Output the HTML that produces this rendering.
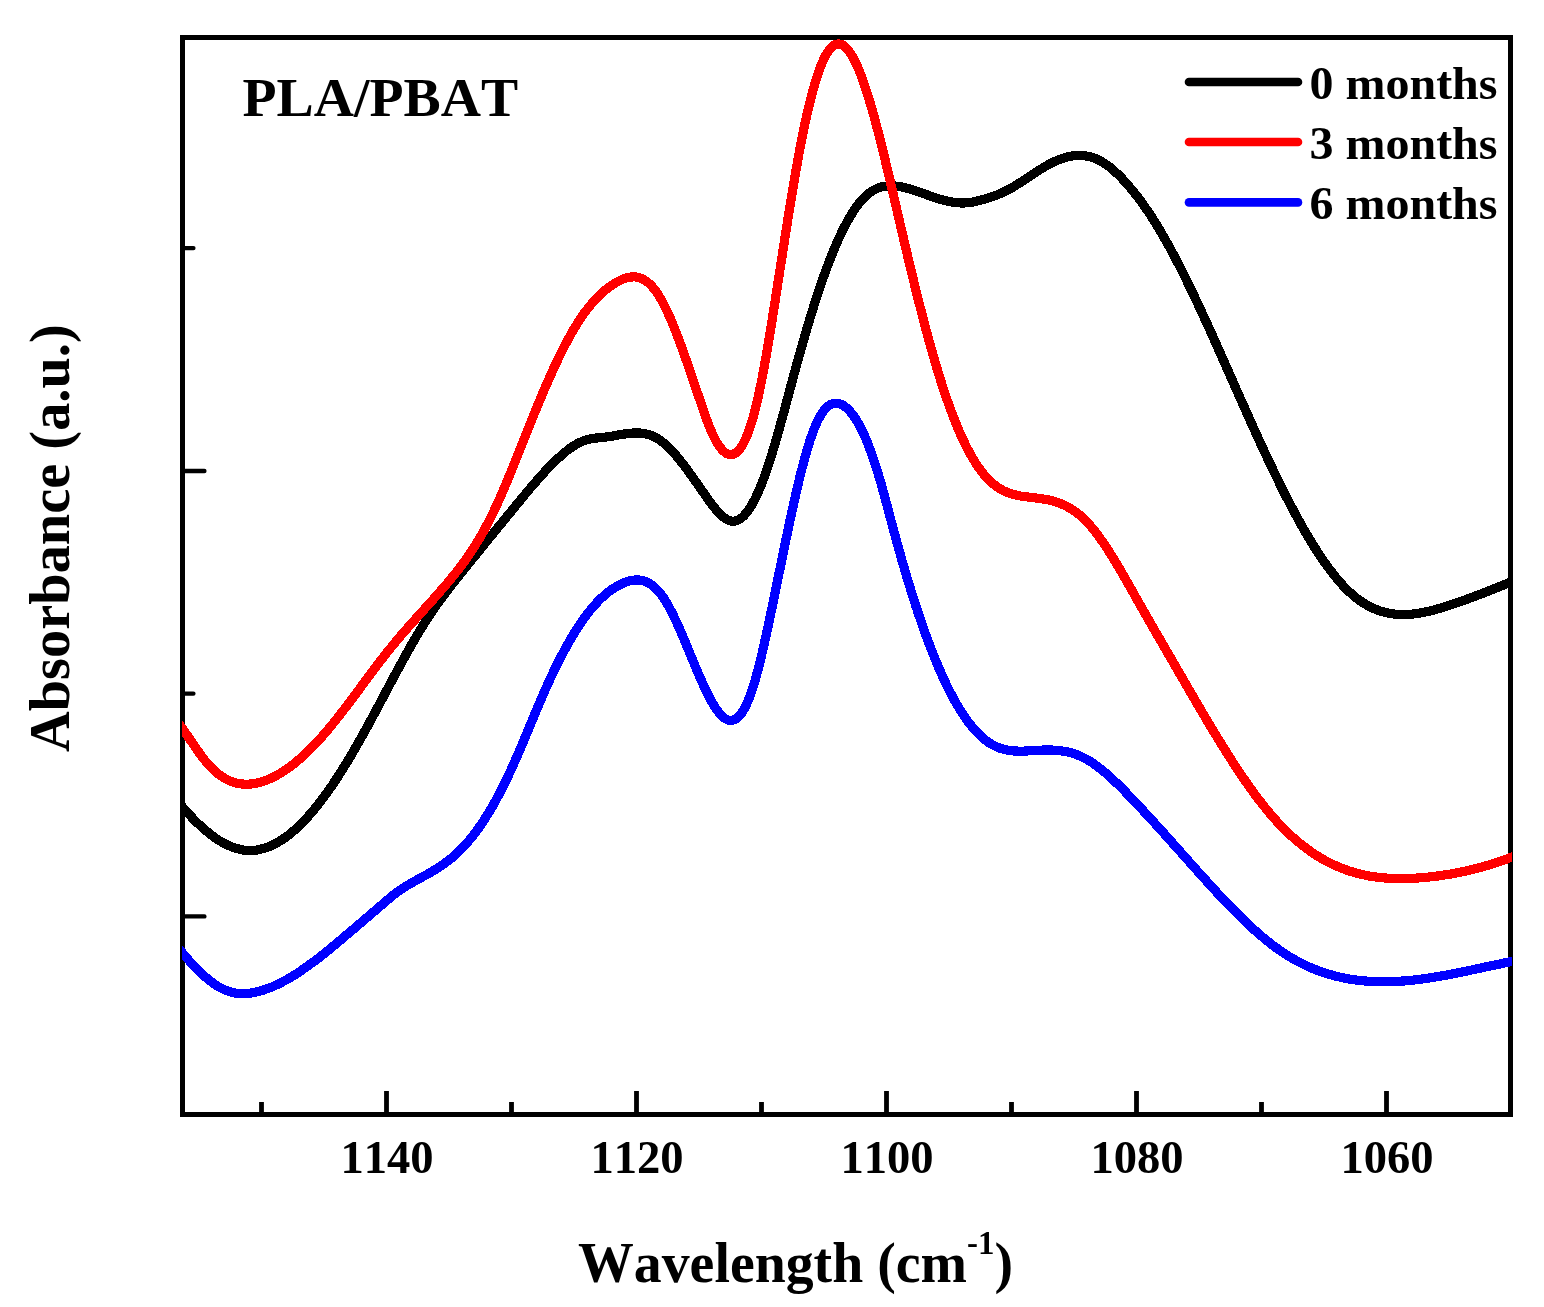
<!DOCTYPE html>
<html lang="en"><head><meta charset="utf-8"><title>PLA/PBAT FTIR absorbance</title>
<style>html,body{margin:0;padding:0;background:#fff}body{width:1544px;height:1307px;overflow:hidden}svg{display:block}text{font-family:"Liberation Serif",serif;font-weight:bold;fill:#000;font-kerning:none}</style></head><body>
<svg width="1544" height="1307" viewBox="0 0 1544 1307">
<rect width="1544" height="1307" fill="#fff"/>
<rect x="182.5" y="37.5" width="1328.0" height="1077.0" fill="none" stroke="#000" stroke-width="5"/>
<path d="M261.5 1114.5 V1102.0M386.5 1114.5 V1091.0M511.5 1114.5 V1102.0M636.5 1114.5 V1091.0M761.5 1114.5 V1102.0M886.5 1114.5 V1091.0M1011.5 1114.5 V1102.0M1136.5 1114.5 V1091.0M1261.5 1114.5 V1102.0M1386.5 1114.5 V1091.0" stroke="#000" stroke-width="4.8" fill="none"/>
<path d="M182.5 248.1 H193.4M182.5 471.0 H204.4M182.5 693.6 H193.4M182.5 916.4 H204.4" stroke="#000" stroke-width="4.4" stroke-linecap="round" fill="none"/>
<clipPath id="pc"><rect x="182" y="30" width="1330" height="1090"/></clipPath>
<g fill="none" stroke-width="9.2" stroke-linejoin="round" stroke-linecap="butt" clip-path="url(#pc)" shape-rendering="crispEdges">
<path stroke="#000" d="M177.5 801.1C178.1 801.8 179.8 803.9 181.0 805.3C182.2 806.6 183.3 808.0 184.5 809.3C185.7 810.7 186.8 812.0 188.0 813.2C189.2 814.5 190.3 815.8 191.5 817.0C192.7 818.2 193.8 819.4 195.0 820.6C196.2 821.8 197.3 822.9 198.5 824.0C199.7 825.1 200.8 826.2 202.0 827.3C203.2 828.3 204.3 829.3 205.5 830.3C206.7 831.3 207.8 832.3 209.0 833.2C210.2 834.1 211.3 835.0 212.5 835.9C213.7 836.8 214.8 837.6 216.0 838.4C217.2 839.2 218.3 839.9 219.5 840.7C220.7 841.4 221.8 842.1 223.0 842.7C224.2 843.4 225.3 844.0 226.5 844.5C227.7 845.1 228.8 845.6 230.0 846.1C231.2 846.6 232.3 847.1 233.5 847.5C234.7 847.9 235.8 848.3 237.0 848.6C238.2 848.9 239.3 849.2 240.5 849.5C241.7 849.7 242.8 849.9 244.0 850.1C245.2 850.2 246.3 850.3 247.5 850.4C248.7 850.5 249.8 850.5 251.0 850.5C252.2 850.4 253.3 850.4 254.5 850.3C255.7 850.1 256.8 850.0 258.0 849.8C259.2 849.6 260.3 849.3 261.5 849.0C262.7 848.8 263.8 848.4 265.0 848.1C266.2 847.7 267.3 847.3 268.5 846.8C269.7 846.4 270.8 845.9 272.0 845.3C273.2 844.8 274.3 844.2 275.5 843.6C276.7 843.0 277.8 842.3 279.0 841.6C280.2 840.9 281.3 840.2 282.5 839.4C283.7 838.6 284.8 837.8 286.0 837.0C287.2 836.1 288.3 835.2 289.5 834.3C290.7 833.4 291.8 832.4 293.0 831.4C294.2 830.4 295.3 829.4 296.5 828.3C297.7 827.3 298.8 826.1 300.0 825.0C301.2 823.9 302.3 822.7 303.5 821.5C304.7 820.3 305.8 819.0 307.0 817.7C308.2 816.5 309.3 815.1 310.5 813.8C311.7 812.5 312.8 811.1 314.0 809.7C315.2 808.3 316.3 806.8 317.5 805.3C318.7 803.9 319.8 802.4 321.0 800.8C322.2 799.3 323.3 797.7 324.5 796.1C325.7 794.6 326.8 792.9 328.0 791.3C329.2 789.6 330.3 788.0 331.5 786.3C332.7 784.6 333.8 782.8 335.0 781.1C336.2 779.3 337.3 777.5 338.5 775.7C339.7 773.9 340.8 772.1 342.0 770.2C343.2 768.4 344.3 766.5 345.5 764.6C346.7 762.7 347.8 760.7 349.0 758.8C350.2 756.8 351.3 754.9 352.5 752.9C353.7 750.9 354.8 748.9 356.0 746.8C357.2 744.8 358.3 742.7 359.5 740.7C360.7 738.6 361.8 736.5 363.0 734.4C364.2 732.3 365.3 730.2 366.5 728.1C367.7 726.0 368.8 723.8 370.0 721.7C371.2 719.5 372.3 717.4 373.5 715.2C374.7 713.0 375.8 710.8 377.0 708.7C378.2 706.5 379.3 704.3 380.5 702.1C381.7 699.9 382.8 697.7 384.0 695.5C385.2 693.3 386.3 691.1 387.5 688.9C388.7 686.7 389.8 684.5 391.0 682.3C392.2 680.1 393.3 677.9 394.5 675.7C395.7 673.6 396.8 671.4 398.0 669.2C399.2 667.1 400.3 664.9 401.5 662.8C402.7 660.6 403.8 658.5 405.0 656.4C406.2 654.3 407.3 652.2 408.5 650.1C409.7 648.0 410.8 646.0 412.0 643.9C413.2 641.9 414.3 639.9 415.5 637.9C416.7 635.9 417.8 633.9 419.0 632.0C420.2 630.1 421.3 628.1 422.5 626.3C423.7 624.4 424.8 622.5 426.0 620.7C427.2 618.9 428.3 617.1 429.5 615.3C430.7 613.6 431.8 611.9 433.0 610.2C434.2 608.5 435.3 606.8 436.5 605.2C437.7 603.5 438.8 601.9 440.0 600.3C441.2 598.7 442.3 597.1 443.5 595.6C444.7 594.0 445.8 592.5 447.0 590.9C448.2 589.4 449.3 587.9 450.5 586.4C451.7 584.9 452.8 583.4 454.0 581.9C455.2 580.5 456.3 579.0 457.5 577.5C458.7 576.1 459.8 574.6 461.0 573.1C462.2 571.7 463.3 570.2 464.5 568.8C465.7 567.3 466.8 565.9 468.0 564.4C469.2 563.0 470.3 561.5 471.5 560.1C472.7 558.6 473.8 557.2 475.0 555.8C476.2 554.3 477.3 552.9 478.5 551.4C479.7 550.0 480.8 548.6 482.0 547.1C483.2 545.7 484.3 544.2 485.5 542.8C486.7 541.4 487.8 539.9 489.0 538.5C490.2 537.1 491.3 535.6 492.5 534.2C493.7 532.8 494.8 531.3 496.0 529.9C497.2 528.5 498.3 527.1 499.5 525.6C500.7 524.2 501.8 522.8 503.0 521.3C504.2 519.9 505.3 518.5 506.5 517.1C507.7 515.6 508.8 514.2 510.0 512.8C511.2 511.4 512.3 509.9 513.5 508.5C514.7 507.1 515.8 505.7 517.0 504.2C518.2 502.8 519.3 501.4 520.5 500.0C521.7 498.6 522.8 497.1 524.0 495.7C525.2 494.3 526.3 492.9 527.5 491.5C528.7 490.1 529.8 488.7 531.0 487.4C532.2 486.0 533.3 484.6 534.5 483.3C535.7 481.9 536.8 480.6 538.0 479.3C539.2 477.9 540.3 476.6 541.5 475.3C542.7 474.0 543.8 472.8 545.0 471.5C546.2 470.3 547.3 469.0 548.5 467.8C549.7 466.6 550.8 465.4 552.0 464.2C553.2 463.0 554.3 461.9 555.5 460.8C556.7 459.6 557.8 458.5 559.0 457.5C560.2 456.4 561.3 455.4 562.5 454.3C563.7 453.3 564.8 452.4 566.0 451.4C567.2 450.5 568.3 449.6 569.5 448.7C570.7 447.9 571.8 447.1 573.0 446.3C574.2 445.5 575.3 444.8 576.5 444.2C577.7 443.5 578.8 442.9 580.0 442.4C581.2 441.8 582.3 441.3 583.5 440.9C584.7 440.5 585.8 440.1 587.0 439.8C588.2 439.5 589.3 439.2 590.5 439.0C591.7 438.7 592.8 438.5 594.0 438.4C595.2 438.2 596.3 438.0 597.5 437.9C598.7 437.8 599.8 437.6 601.0 437.5C602.2 437.4 603.3 437.3 604.5 437.2C605.7 437.0 606.8 436.9 608.0 436.7C609.2 436.6 610.3 436.4 611.5 436.2C612.7 436.0 613.8 435.8 615.0 435.6C616.2 435.4 617.3 435.2 618.5 435.0C619.7 434.8 620.8 434.6 622.0 434.4C623.2 434.2 624.3 434.0 625.5 433.9C626.7 433.7 627.8 433.5 629.0 433.4C630.2 433.3 631.3 433.2 632.5 433.1C633.7 433.0 634.8 433.0 636.0 433.0C637.2 433.0 638.3 433.0 639.5 433.0C640.7 433.1 641.8 433.2 643.0 433.4C644.2 433.6 645.3 433.8 646.5 434.1C647.7 434.3 648.8 434.7 650.0 435.1C651.2 435.5 652.3 435.9 653.5 436.5C654.7 437.0 655.8 437.6 657.0 438.3C658.2 439.0 659.3 439.7 660.5 440.5C661.7 441.4 662.8 442.3 664.0 443.3C665.2 444.2 666.3 445.3 667.5 446.4C668.7 447.5 669.8 448.7 671.0 449.9C672.2 451.1 673.3 452.4 674.5 453.7C675.7 455.0 676.8 456.4 678.0 457.8C679.2 459.2 680.3 460.7 681.5 462.2C682.7 463.6 683.8 465.2 685.0 466.7C686.2 468.3 687.3 469.9 688.5 471.5C689.7 473.1 690.8 474.7 692.0 476.3C693.2 478.0 694.3 479.6 695.5 481.3C696.7 482.9 697.8 484.6 699.0 486.3C700.2 488.0 701.3 489.7 702.5 491.3C703.7 493.0 704.8 494.7 706.0 496.3C707.2 498.0 708.3 499.7 709.5 501.3C710.7 502.9 711.8 504.4 713.0 505.9C714.2 507.4 715.3 508.9 716.5 510.2C717.7 511.6 718.8 512.9 720.0 514.0C721.2 515.2 722.3 516.3 723.5 517.2C724.7 518.1 725.8 518.9 727.0 519.5C728.2 520.1 729.3 520.6 730.5 520.9C731.7 521.2 732.8 521.3 734.0 521.2C735.2 521.1 736.3 520.8 737.5 520.3C738.7 519.9 739.8 519.2 741.0 518.3C742.2 517.4 743.3 516.3 744.5 515.1C745.7 513.8 746.8 512.4 748.0 510.8C749.2 509.2 750.3 507.3 751.5 505.4C752.7 503.4 753.8 501.2 755.0 498.9C756.2 496.6 757.3 494.1 758.5 491.4C759.7 488.8 760.8 485.9 762.0 483.0C763.2 480.0 764.3 476.8 765.5 473.5C766.7 470.2 767.8 466.8 769.0 463.2C770.2 459.6 771.3 455.9 772.5 452.0C773.7 448.2 774.8 444.2 776.0 440.2C777.2 436.2 778.3 432.1 779.5 427.9C780.7 423.7 781.8 419.5 783.0 415.2C784.2 411.0 785.3 406.6 786.5 402.3C787.7 398.0 788.8 393.6 790.0 389.3C791.2 384.9 792.3 380.6 793.5 376.3C794.7 372.0 795.8 367.7 797.0 363.5C798.2 359.3 799.3 355.1 800.5 350.9C801.7 346.8 802.8 342.7 804.0 338.7C805.2 334.6 806.3 330.6 807.5 326.7C808.7 322.8 809.8 318.9 811.0 315.1C812.2 311.3 813.3 307.5 814.5 303.9C815.7 300.2 816.8 296.6 818.0 293.1C819.2 289.5 820.3 286.1 821.5 282.7C822.7 279.3 823.8 276.0 825.0 272.8C826.2 269.6 827.3 266.4 828.5 263.4C829.7 260.3 830.8 257.3 832.0 254.5C833.2 251.6 834.3 248.8 835.5 246.0C836.7 243.3 837.8 240.7 839.0 238.1C840.2 235.6 841.3 233.1 842.5 230.8C843.7 228.4 844.8 226.1 846.0 223.9C847.2 221.7 848.3 219.6 849.5 217.6C850.7 215.6 851.8 213.7 853.0 211.9C854.2 210.1 855.3 208.4 856.5 206.8C857.7 205.2 858.8 203.7 860.0 202.2C861.2 200.8 862.3 199.5 863.5 198.3C864.7 197.0 865.8 195.9 867.0 194.9C868.2 193.9 869.3 193.0 870.5 192.1C871.7 191.3 872.8 190.6 874.0 189.9C875.2 189.3 876.3 188.8 877.5 188.3C878.7 187.8 879.8 187.4 881.0 187.1C882.2 186.8 883.3 186.5 884.5 186.3C885.7 186.1 886.8 186.0 888.0 185.9C889.2 185.8 890.3 185.8 891.5 185.8C892.7 185.9 893.8 185.9 895.0 186.0C896.2 186.1 897.3 186.3 898.5 186.4C899.7 186.6 900.8 186.8 902.0 187.0C903.2 187.3 904.3 187.5 905.5 187.8C906.7 188.1 907.8 188.4 909.0 188.7C910.2 189.1 911.3 189.4 912.5 189.8C913.7 190.1 914.8 190.5 916.0 190.9C917.2 191.3 918.3 191.7 919.5 192.1C920.7 192.5 921.8 192.9 923.0 193.4C924.2 193.8 925.3 194.2 926.5 194.6C927.7 195.0 928.8 195.5 930.0 195.9C931.2 196.3 932.3 196.7 933.5 197.1C934.7 197.5 935.8 197.9 937.0 198.3C938.2 198.6 939.3 199.0 940.5 199.3C941.7 199.7 942.8 200.0 944.0 200.3C945.2 200.6 946.3 200.9 947.5 201.2C948.7 201.4 949.8 201.7 951.0 201.9C952.2 202.1 953.3 202.3 954.5 202.4C955.7 202.6 956.8 202.7 958.0 202.8C959.2 202.9 960.3 202.9 961.5 203.0C962.7 203.0 963.8 203.0 965.0 202.9C966.2 202.9 967.3 202.8 968.5 202.7C969.7 202.6 970.8 202.4 972.0 202.2C973.2 202.0 974.3 201.8 975.5 201.5C976.7 201.2 977.8 200.9 979.0 200.6C980.2 200.3 981.3 200.0 982.5 199.6C983.7 199.3 984.8 198.9 986.0 198.6C987.2 198.2 988.3 197.8 989.5 197.5C990.7 197.1 991.8 196.7 993.0 196.3C994.2 195.9 995.3 195.5 996.5 195.1C997.7 194.6 998.8 194.2 1000.0 193.7C1001.2 193.2 1002.3 192.7 1003.5 192.1C1004.7 191.6 1005.8 191.0 1007.0 190.4C1008.2 189.8 1009.3 189.2 1010.5 188.5C1011.7 187.9 1012.8 187.2 1014.0 186.5C1015.2 185.8 1016.3 185.1 1017.5 184.3C1018.7 183.6 1019.8 182.8 1021.0 182.1C1022.2 181.3 1023.3 180.6 1024.5 179.8C1025.7 179.0 1026.8 178.2 1028.0 177.5C1029.2 176.7 1030.3 175.9 1031.5 175.1C1032.7 174.4 1033.8 173.6 1035.0 172.8C1036.2 172.1 1037.3 171.3 1038.5 170.6C1039.7 169.8 1040.8 169.1 1042.0 168.4C1043.2 167.6 1044.3 166.9 1045.5 166.3C1046.7 165.6 1047.8 164.9 1049.0 164.3C1050.2 163.7 1051.3 163.1 1052.5 162.5C1053.7 161.9 1054.8 161.4 1056.0 160.9C1057.2 160.3 1058.3 159.9 1059.5 159.4C1060.7 159.0 1061.8 158.6 1063.0 158.2C1064.2 157.8 1065.3 157.5 1066.5 157.2C1067.7 156.9 1068.8 156.6 1070.0 156.4C1071.2 156.1 1072.3 156.0 1073.5 155.8C1074.7 155.7 1075.8 155.6 1077.0 155.5C1078.2 155.5 1079.3 155.5 1080.5 155.5C1081.7 155.5 1082.8 155.6 1084.0 155.7C1085.2 155.9 1086.3 156.0 1087.5 156.3C1088.7 156.5 1089.8 156.8 1091.0 157.1C1092.2 157.4 1093.3 157.8 1094.5 158.2C1095.7 158.7 1096.8 159.2 1098.0 159.7C1099.2 160.3 1100.3 160.9 1101.5 161.5C1102.7 162.2 1103.8 162.9 1105.0 163.7C1106.2 164.5 1107.3 165.3 1108.5 166.2C1109.7 167.1 1110.8 168.0 1112.0 169.0C1113.2 170.0 1114.3 171.0 1115.5 172.1C1116.7 173.2 1117.8 174.3 1119.0 175.4C1120.2 176.6 1121.3 177.8 1122.5 179.0C1123.7 180.3 1124.8 181.6 1126.0 182.9C1127.2 184.2 1128.3 185.5 1129.5 186.9C1130.7 188.3 1131.8 189.7 1133.0 191.1C1134.2 192.6 1135.3 194.0 1136.5 195.5C1137.7 197.0 1138.8 198.6 1140.0 200.1C1141.2 201.7 1142.3 203.3 1143.5 205.0C1144.7 206.6 1145.8 208.3 1147.0 210.0C1148.2 211.7 1149.3 213.4 1150.5 215.2C1151.7 217.0 1152.8 218.8 1154.0 220.7C1155.2 222.5 1156.3 224.4 1157.5 226.3C1158.7 228.2 1159.8 230.2 1161.0 232.2C1162.2 234.2 1163.3 236.2 1164.5 238.2C1165.7 240.3 1166.8 242.4 1168.0 244.5C1169.2 246.6 1170.3 248.7 1171.5 250.9C1172.7 253.1 1173.8 255.3 1175.0 257.5C1176.2 259.7 1177.3 261.9 1178.5 264.2C1179.7 266.5 1180.8 268.8 1182.0 271.1C1183.2 273.4 1184.3 275.8 1185.5 278.1C1186.7 280.5 1187.8 282.9 1189.0 285.3C1190.2 287.7 1191.3 290.1 1192.5 292.5C1193.7 294.9 1194.8 297.4 1196.0 299.9C1197.2 302.3 1198.3 304.8 1199.5 307.3C1200.7 309.8 1201.8 312.4 1203.0 314.9C1204.2 317.4 1205.3 320.0 1206.5 322.5C1207.7 325.1 1208.8 327.6 1210.0 330.2C1211.2 332.8 1212.3 335.4 1213.5 338.0C1214.7 340.6 1215.8 343.2 1217.0 345.8C1218.2 348.4 1219.3 351.0 1220.5 353.6C1221.7 356.3 1222.8 358.9 1224.0 361.5C1225.2 364.2 1226.3 366.8 1227.5 369.4C1228.7 372.1 1229.8 374.7 1231.0 377.3C1232.2 380.0 1233.3 382.6 1234.5 385.3C1235.7 387.9 1236.8 390.5 1238.0 393.2C1239.2 395.8 1240.3 398.4 1241.5 401.1C1242.7 403.7 1243.8 406.3 1245.0 408.9C1246.2 411.5 1247.3 414.1 1248.5 416.8C1249.7 419.4 1250.8 422.0 1252.0 424.5C1253.2 427.1 1254.3 429.7 1255.5 432.3C1256.7 434.8 1257.8 437.4 1259.0 439.9C1260.2 442.5 1261.3 445.0 1262.5 447.5C1263.7 450.1 1264.8 452.6 1266.0 455.1C1267.2 457.6 1268.3 460.0 1269.5 462.5C1270.7 465.0 1271.8 467.4 1273.0 469.8C1274.2 472.3 1275.3 474.7 1276.5 477.1C1277.7 479.5 1278.8 481.9 1280.0 484.2C1281.2 486.6 1282.3 488.9 1283.5 491.3C1284.7 493.6 1285.8 495.9 1287.0 498.2C1288.2 500.4 1289.3 502.7 1290.5 504.9C1291.7 507.2 1292.8 509.4 1294.0 511.6C1295.2 513.7 1296.3 515.9 1297.5 518.0C1298.7 520.2 1299.8 522.3 1301.0 524.4C1302.2 526.4 1303.3 528.5 1304.5 530.5C1305.7 532.6 1306.8 534.6 1308.0 536.5C1309.2 538.5 1310.3 540.4 1311.5 542.4C1312.7 544.3 1313.8 546.1 1315.0 548.0C1316.2 549.8 1317.3 551.7 1318.5 553.4C1319.7 555.2 1320.8 557.0 1322.0 558.7C1323.2 560.4 1324.3 562.1 1325.5 563.7C1326.7 565.4 1327.8 567.0 1329.0 568.5C1330.2 570.1 1331.3 571.6 1332.5 573.1C1333.7 574.6 1334.8 576.1 1336.0 577.5C1337.2 578.9 1338.3 580.3 1339.5 581.6C1340.7 583.0 1341.8 584.3 1343.0 585.5C1344.2 586.8 1345.3 588.0 1346.5 589.2C1347.7 590.3 1348.8 591.4 1350.0 592.5C1351.2 593.6 1352.3 594.6 1353.5 595.6C1354.7 596.6 1355.8 597.6 1357.0 598.5C1358.2 599.4 1359.3 600.2 1360.5 601.0C1361.7 601.8 1362.8 602.6 1364.0 603.3C1365.2 604.1 1366.3 604.8 1367.5 605.4C1368.7 606.1 1369.8 606.7 1371.0 607.2C1372.2 607.8 1373.3 608.3 1374.5 608.8C1375.7 609.3 1376.8 609.8 1378.0 610.2C1379.2 610.6 1380.3 611.0 1381.5 611.4C1382.7 611.7 1383.8 612.1 1385.0 612.4C1386.2 612.7 1387.3 612.9 1388.5 613.1C1389.7 613.4 1390.8 613.6 1392.0 613.7C1393.2 613.9 1394.3 614.1 1395.5 614.2C1396.7 614.3 1397.8 614.4 1399.0 614.4C1400.2 614.5 1401.3 614.5 1402.5 614.5C1403.7 614.5 1404.8 614.5 1406.0 614.5C1407.2 614.4 1408.3 614.4 1409.5 614.3C1410.7 614.2 1411.8 614.1 1413.0 614.0C1414.2 613.9 1415.3 613.7 1416.5 613.6C1417.7 613.4 1418.8 613.2 1420.0 613.0C1421.2 612.8 1422.3 612.6 1423.5 612.4C1424.7 612.1 1425.8 611.9 1427.0 611.6C1428.2 611.4 1429.3 611.1 1430.5 610.8C1431.7 610.5 1432.8 610.2 1434.0 609.9C1435.2 609.6 1436.3 609.3 1437.5 608.9C1438.7 608.6 1439.8 608.2 1441.0 607.9C1442.2 607.5 1443.3 607.2 1444.5 606.8C1445.7 606.4 1446.8 606.1 1448.0 605.7C1449.2 605.3 1450.3 604.9 1451.5 604.5C1452.7 604.2 1453.8 603.8 1455.0 603.4C1456.2 603.0 1457.3 602.6 1458.5 602.2C1459.7 601.8 1460.8 601.4 1462.0 600.9C1463.2 600.5 1464.3 600.1 1465.5 599.7C1466.7 599.3 1467.8 598.9 1469.0 598.4C1470.2 598.0 1471.3 597.6 1472.5 597.2C1473.7 596.7 1474.8 596.3 1476.0 595.8C1477.2 595.4 1478.3 595.0 1479.5 594.5C1480.7 594.1 1481.8 593.6 1483.0 593.2C1484.2 592.7 1485.3 592.3 1486.5 591.8C1487.7 591.4 1488.8 590.9 1490.0 590.4C1491.2 590.0 1492.3 589.5 1493.5 589.0C1494.7 588.6 1495.8 588.1 1497.0 587.6C1498.2 587.2 1499.3 586.7 1500.5 586.2C1501.7 585.7 1502.8 585.3 1504.0 584.8C1505.2 584.3 1506.3 583.8 1507.5 583.3C1508.7 582.8 1509.8 582.3 1511.0 581.8C1512.2 581.4 1513.4 580.8 1514.5 580.4C1515.6 579.9 1517.0 579.3 1517.5 579.1"/>
<path stroke="#000" stroke-width="7" shape-rendering="geometricPrecision" d="M177.5 801.1C178.1 801.8 179.8 803.9 181.0 805.3C182.2 806.6 183.3 808.0 184.5 809.3C185.7 810.7 186.8 812.0 188.0 813.2C189.2 814.5 190.3 815.8 191.5 817.0C192.7 818.2 193.8 819.4 195.0 820.6C196.2 821.8 197.3 822.9 198.5 824.0C199.7 825.1 200.8 826.2 202.0 827.3C203.2 828.3 204.3 829.3 205.5 830.3C206.7 831.3 207.8 832.3 209.0 833.2C210.2 834.1 211.3 835.0 212.5 835.9C213.7 836.8 214.8 837.6 216.0 838.4C217.2 839.2 218.3 839.9 219.5 840.7C220.7 841.4 221.8 842.1 223.0 842.7C224.2 843.4 225.3 844.0 226.5 844.5C227.7 845.1 228.8 845.6 230.0 846.1C231.2 846.6 232.3 847.1 233.5 847.5C234.7 847.9 235.8 848.3 237.0 848.6C238.2 848.9 239.3 849.2 240.5 849.5C241.7 849.7 242.8 849.9 244.0 850.1C245.2 850.2 246.3 850.3 247.5 850.4C248.7 850.5 249.8 850.5 251.0 850.5C252.2 850.4 253.3 850.4 254.5 850.3C255.7 850.1 256.8 850.0 258.0 849.8C259.2 849.6 260.3 849.3 261.5 849.0C262.7 848.8 263.8 848.4 265.0 848.1C266.2 847.7 267.3 847.3 268.5 846.8C269.7 846.4 270.8 845.9 272.0 845.3C273.2 844.8 274.3 844.2 275.5 843.6C276.7 843.0 277.8 842.3 279.0 841.6C280.2 840.9 281.3 840.2 282.5 839.4C283.7 838.6 284.8 837.8 286.0 837.0C287.2 836.1 288.3 835.2 289.5 834.3C290.7 833.4 291.8 832.4 293.0 831.4C294.2 830.4 295.3 829.4 296.5 828.3C297.7 827.3 298.8 826.1 300.0 825.0C301.2 823.9 302.3 822.7 303.5 821.5C304.7 820.3 305.8 819.0 307.0 817.7C308.2 816.5 309.3 815.1 310.5 813.8C311.7 812.5 312.8 811.1 314.0 809.7C315.2 808.3 316.3 806.8 317.5 805.3C318.7 803.9 319.8 802.4 321.0 800.8C322.2 799.3 323.3 797.7 324.5 796.1C325.7 794.6 326.8 792.9 328.0 791.3C329.2 789.6 330.3 788.0 331.5 786.3C332.7 784.6 333.8 782.8 335.0 781.1C336.2 779.3 337.3 777.5 338.5 775.7C339.7 773.9 340.8 772.1 342.0 770.2C343.2 768.4 344.3 766.5 345.5 764.6C346.7 762.7 347.8 760.7 349.0 758.8C350.2 756.8 351.3 754.9 352.5 752.9C353.7 750.9 354.8 748.9 356.0 746.8C357.2 744.8 358.3 742.7 359.5 740.7C360.7 738.6 361.8 736.5 363.0 734.4C364.2 732.3 365.3 730.2 366.5 728.1C367.7 726.0 368.8 723.8 370.0 721.7C371.2 719.5 372.3 717.4 373.5 715.2C374.7 713.0 375.8 710.8 377.0 708.7C378.2 706.5 379.3 704.3 380.5 702.1C381.7 699.9 382.8 697.7 384.0 695.5C385.2 693.3 386.3 691.1 387.5 688.9C388.7 686.7 389.8 684.5 391.0 682.3C392.2 680.1 393.3 677.9 394.5 675.7C395.7 673.6 396.8 671.4 398.0 669.2C399.2 667.1 400.3 664.9 401.5 662.8C402.7 660.6 403.8 658.5 405.0 656.4C406.2 654.3 407.3 652.2 408.5 650.1C409.7 648.0 410.8 646.0 412.0 643.9C413.2 641.9 414.3 639.9 415.5 637.9C416.7 635.9 417.8 633.9 419.0 632.0C420.2 630.1 421.3 628.1 422.5 626.3C423.7 624.4 424.8 622.5 426.0 620.7C427.2 618.9 428.3 617.1 429.5 615.3C430.7 613.6 431.8 611.9 433.0 610.2C434.2 608.5 435.3 606.8 436.5 605.2C437.7 603.5 438.8 601.9 440.0 600.3C441.2 598.7 442.3 597.1 443.5 595.6C444.7 594.0 445.8 592.5 447.0 590.9C448.2 589.4 449.3 587.9 450.5 586.4C451.7 584.9 452.8 583.4 454.0 581.9C455.2 580.5 456.3 579.0 457.5 577.5C458.7 576.1 459.8 574.6 461.0 573.1C462.2 571.7 463.3 570.2 464.5 568.8C465.7 567.3 466.8 565.9 468.0 564.4C469.2 563.0 470.3 561.5 471.5 560.1C472.7 558.6 473.8 557.2 475.0 555.8C476.2 554.3 477.3 552.9 478.5 551.4C479.7 550.0 480.8 548.6 482.0 547.1C483.2 545.7 484.3 544.2 485.5 542.8C486.7 541.4 487.8 539.9 489.0 538.5C490.2 537.1 491.3 535.6 492.5 534.2C493.7 532.8 494.8 531.3 496.0 529.9C497.2 528.5 498.3 527.1 499.5 525.6C500.7 524.2 501.8 522.8 503.0 521.3C504.2 519.9 505.3 518.5 506.5 517.1C507.7 515.6 508.8 514.2 510.0 512.8C511.2 511.4 512.3 509.9 513.5 508.5C514.7 507.1 515.8 505.7 517.0 504.2C518.2 502.8 519.3 501.4 520.5 500.0C521.7 498.6 522.8 497.1 524.0 495.7C525.2 494.3 526.3 492.9 527.5 491.5C528.7 490.1 529.8 488.7 531.0 487.4C532.2 486.0 533.3 484.6 534.5 483.3C535.7 481.9 536.8 480.6 538.0 479.3C539.2 477.9 540.3 476.6 541.5 475.3C542.7 474.0 543.8 472.8 545.0 471.5C546.2 470.3 547.3 469.0 548.5 467.8C549.7 466.6 550.8 465.4 552.0 464.2C553.2 463.0 554.3 461.9 555.5 460.8C556.7 459.6 557.8 458.5 559.0 457.5C560.2 456.4 561.3 455.4 562.5 454.3C563.7 453.3 564.8 452.4 566.0 451.4C567.2 450.5 568.3 449.6 569.5 448.7C570.7 447.9 571.8 447.1 573.0 446.3C574.2 445.5 575.3 444.8 576.5 444.2C577.7 443.5 578.8 442.9 580.0 442.4C581.2 441.8 582.3 441.3 583.5 440.9C584.7 440.5 585.8 440.1 587.0 439.8C588.2 439.5 589.3 439.2 590.5 439.0C591.7 438.7 592.8 438.5 594.0 438.4C595.2 438.2 596.3 438.0 597.5 437.9C598.7 437.8 599.8 437.6 601.0 437.5C602.2 437.4 603.3 437.3 604.5 437.2C605.7 437.0 606.8 436.9 608.0 436.7C609.2 436.6 610.3 436.4 611.5 436.2C612.7 436.0 613.8 435.8 615.0 435.6C616.2 435.4 617.3 435.2 618.5 435.0C619.7 434.8 620.8 434.6 622.0 434.4C623.2 434.2 624.3 434.0 625.5 433.9C626.7 433.7 627.8 433.5 629.0 433.4C630.2 433.3 631.3 433.2 632.5 433.1C633.7 433.0 634.8 433.0 636.0 433.0C637.2 433.0 638.3 433.0 639.5 433.0C640.7 433.1 641.8 433.2 643.0 433.4C644.2 433.6 645.3 433.8 646.5 434.1C647.7 434.3 648.8 434.7 650.0 435.1C651.2 435.5 652.3 435.9 653.5 436.5C654.7 437.0 655.8 437.6 657.0 438.3C658.2 439.0 659.3 439.7 660.5 440.5C661.7 441.4 662.8 442.3 664.0 443.3C665.2 444.2 666.3 445.3 667.5 446.4C668.7 447.5 669.8 448.7 671.0 449.9C672.2 451.1 673.3 452.4 674.5 453.7C675.7 455.0 676.8 456.4 678.0 457.8C679.2 459.2 680.3 460.7 681.5 462.2C682.7 463.6 683.8 465.2 685.0 466.7C686.2 468.3 687.3 469.9 688.5 471.5C689.7 473.1 690.8 474.7 692.0 476.3C693.2 478.0 694.3 479.6 695.5 481.3C696.7 482.9 697.8 484.6 699.0 486.3C700.2 488.0 701.3 489.7 702.5 491.3C703.7 493.0 704.8 494.7 706.0 496.3C707.2 498.0 708.3 499.7 709.5 501.3C710.7 502.9 711.8 504.4 713.0 505.9C714.2 507.4 715.3 508.9 716.5 510.2C717.7 511.6 718.8 512.9 720.0 514.0C721.2 515.2 722.3 516.3 723.5 517.2C724.7 518.1 725.8 518.9 727.0 519.5C728.2 520.1 729.3 520.6 730.5 520.9C731.7 521.2 732.8 521.3 734.0 521.2C735.2 521.1 736.3 520.8 737.5 520.3C738.7 519.9 739.8 519.2 741.0 518.3C742.2 517.4 743.3 516.3 744.5 515.1C745.7 513.8 746.8 512.4 748.0 510.8C749.2 509.2 750.3 507.3 751.5 505.4C752.7 503.4 753.8 501.2 755.0 498.9C756.2 496.6 757.3 494.1 758.5 491.4C759.7 488.8 760.8 485.9 762.0 483.0C763.2 480.0 764.3 476.8 765.5 473.5C766.7 470.2 767.8 466.8 769.0 463.2C770.2 459.6 771.3 455.9 772.5 452.0C773.7 448.2 774.8 444.2 776.0 440.2C777.2 436.2 778.3 432.1 779.5 427.9C780.7 423.7 781.8 419.5 783.0 415.2C784.2 411.0 785.3 406.6 786.5 402.3C787.7 398.0 788.8 393.6 790.0 389.3C791.2 384.9 792.3 380.6 793.5 376.3C794.7 372.0 795.8 367.7 797.0 363.5C798.2 359.3 799.3 355.1 800.5 350.9C801.7 346.8 802.8 342.7 804.0 338.7C805.2 334.6 806.3 330.6 807.5 326.7C808.7 322.8 809.8 318.9 811.0 315.1C812.2 311.3 813.3 307.5 814.5 303.9C815.7 300.2 816.8 296.6 818.0 293.1C819.2 289.5 820.3 286.1 821.5 282.7C822.7 279.3 823.8 276.0 825.0 272.8C826.2 269.6 827.3 266.4 828.5 263.4C829.7 260.3 830.8 257.3 832.0 254.5C833.2 251.6 834.3 248.8 835.5 246.0C836.7 243.3 837.8 240.7 839.0 238.1C840.2 235.6 841.3 233.1 842.5 230.8C843.7 228.4 844.8 226.1 846.0 223.9C847.2 221.7 848.3 219.6 849.5 217.6C850.7 215.6 851.8 213.7 853.0 211.9C854.2 210.1 855.3 208.4 856.5 206.8C857.7 205.2 858.8 203.7 860.0 202.2C861.2 200.8 862.3 199.5 863.5 198.3C864.7 197.0 865.8 195.9 867.0 194.9C868.2 193.9 869.3 193.0 870.5 192.1C871.7 191.3 872.8 190.6 874.0 189.9C875.2 189.3 876.3 188.8 877.5 188.3C878.7 187.8 879.8 187.4 881.0 187.1C882.2 186.8 883.3 186.5 884.5 186.3C885.7 186.1 886.8 186.0 888.0 185.9C889.2 185.8 890.3 185.8 891.5 185.8C892.7 185.9 893.8 185.9 895.0 186.0C896.2 186.1 897.3 186.3 898.5 186.4C899.7 186.6 900.8 186.8 902.0 187.0C903.2 187.3 904.3 187.5 905.5 187.8C906.7 188.1 907.8 188.4 909.0 188.7C910.2 189.1 911.3 189.4 912.5 189.8C913.7 190.1 914.8 190.5 916.0 190.9C917.2 191.3 918.3 191.7 919.5 192.1C920.7 192.5 921.8 192.9 923.0 193.4C924.2 193.8 925.3 194.2 926.5 194.6C927.7 195.0 928.8 195.5 930.0 195.9C931.2 196.3 932.3 196.7 933.5 197.1C934.7 197.5 935.8 197.9 937.0 198.3C938.2 198.6 939.3 199.0 940.5 199.3C941.7 199.7 942.8 200.0 944.0 200.3C945.2 200.6 946.3 200.9 947.5 201.2C948.7 201.4 949.8 201.7 951.0 201.9C952.2 202.1 953.3 202.3 954.5 202.4C955.7 202.6 956.8 202.7 958.0 202.8C959.2 202.9 960.3 202.9 961.5 203.0C962.7 203.0 963.8 203.0 965.0 202.9C966.2 202.9 967.3 202.8 968.5 202.7C969.7 202.6 970.8 202.4 972.0 202.2C973.2 202.0 974.3 201.8 975.5 201.5C976.7 201.2 977.8 200.9 979.0 200.6C980.2 200.3 981.3 200.0 982.5 199.6C983.7 199.3 984.8 198.9 986.0 198.6C987.2 198.2 988.3 197.8 989.5 197.5C990.7 197.1 991.8 196.7 993.0 196.3C994.2 195.9 995.3 195.5 996.5 195.1C997.7 194.6 998.8 194.2 1000.0 193.7C1001.2 193.2 1002.3 192.7 1003.5 192.1C1004.7 191.6 1005.8 191.0 1007.0 190.4C1008.2 189.8 1009.3 189.2 1010.5 188.5C1011.7 187.9 1012.8 187.2 1014.0 186.5C1015.2 185.8 1016.3 185.1 1017.5 184.3C1018.7 183.6 1019.8 182.8 1021.0 182.1C1022.2 181.3 1023.3 180.6 1024.5 179.8C1025.7 179.0 1026.8 178.2 1028.0 177.5C1029.2 176.7 1030.3 175.9 1031.5 175.1C1032.7 174.4 1033.8 173.6 1035.0 172.8C1036.2 172.1 1037.3 171.3 1038.5 170.6C1039.7 169.8 1040.8 169.1 1042.0 168.4C1043.2 167.6 1044.3 166.9 1045.5 166.3C1046.7 165.6 1047.8 164.9 1049.0 164.3C1050.2 163.7 1051.3 163.1 1052.5 162.5C1053.7 161.9 1054.8 161.4 1056.0 160.9C1057.2 160.3 1058.3 159.9 1059.5 159.4C1060.7 159.0 1061.8 158.6 1063.0 158.2C1064.2 157.8 1065.3 157.5 1066.5 157.2C1067.7 156.9 1068.8 156.6 1070.0 156.4C1071.2 156.1 1072.3 156.0 1073.5 155.8C1074.7 155.7 1075.8 155.6 1077.0 155.5C1078.2 155.5 1079.3 155.5 1080.5 155.5C1081.7 155.5 1082.8 155.6 1084.0 155.7C1085.2 155.9 1086.3 156.0 1087.5 156.3C1088.7 156.5 1089.8 156.8 1091.0 157.1C1092.2 157.4 1093.3 157.8 1094.5 158.2C1095.7 158.7 1096.8 159.2 1098.0 159.7C1099.2 160.3 1100.3 160.9 1101.5 161.5C1102.7 162.2 1103.8 162.9 1105.0 163.7C1106.2 164.5 1107.3 165.3 1108.5 166.2C1109.7 167.1 1110.8 168.0 1112.0 169.0C1113.2 170.0 1114.3 171.0 1115.5 172.1C1116.7 173.2 1117.8 174.3 1119.0 175.4C1120.2 176.6 1121.3 177.8 1122.5 179.0C1123.7 180.3 1124.8 181.6 1126.0 182.9C1127.2 184.2 1128.3 185.5 1129.5 186.9C1130.7 188.3 1131.8 189.7 1133.0 191.1C1134.2 192.6 1135.3 194.0 1136.5 195.5C1137.7 197.0 1138.8 198.6 1140.0 200.1C1141.2 201.7 1142.3 203.3 1143.5 205.0C1144.7 206.6 1145.8 208.3 1147.0 210.0C1148.2 211.7 1149.3 213.4 1150.5 215.2C1151.7 217.0 1152.8 218.8 1154.0 220.7C1155.2 222.5 1156.3 224.4 1157.5 226.3C1158.7 228.2 1159.8 230.2 1161.0 232.2C1162.2 234.2 1163.3 236.2 1164.5 238.2C1165.7 240.3 1166.8 242.4 1168.0 244.5C1169.2 246.6 1170.3 248.7 1171.5 250.9C1172.7 253.1 1173.8 255.3 1175.0 257.5C1176.2 259.7 1177.3 261.9 1178.5 264.2C1179.7 266.5 1180.8 268.8 1182.0 271.1C1183.2 273.4 1184.3 275.8 1185.5 278.1C1186.7 280.5 1187.8 282.9 1189.0 285.3C1190.2 287.7 1191.3 290.1 1192.5 292.5C1193.7 294.9 1194.8 297.4 1196.0 299.9C1197.2 302.3 1198.3 304.8 1199.5 307.3C1200.7 309.8 1201.8 312.4 1203.0 314.9C1204.2 317.4 1205.3 320.0 1206.5 322.5C1207.7 325.1 1208.8 327.6 1210.0 330.2C1211.2 332.8 1212.3 335.4 1213.5 338.0C1214.7 340.6 1215.8 343.2 1217.0 345.8C1218.2 348.4 1219.3 351.0 1220.5 353.6C1221.7 356.3 1222.8 358.9 1224.0 361.5C1225.2 364.2 1226.3 366.8 1227.5 369.4C1228.7 372.1 1229.8 374.7 1231.0 377.3C1232.2 380.0 1233.3 382.6 1234.5 385.3C1235.7 387.9 1236.8 390.5 1238.0 393.2C1239.2 395.8 1240.3 398.4 1241.5 401.1C1242.7 403.7 1243.8 406.3 1245.0 408.9C1246.2 411.5 1247.3 414.1 1248.5 416.8C1249.7 419.4 1250.8 422.0 1252.0 424.5C1253.2 427.1 1254.3 429.7 1255.5 432.3C1256.7 434.8 1257.8 437.4 1259.0 439.9C1260.2 442.5 1261.3 445.0 1262.5 447.5C1263.7 450.1 1264.8 452.6 1266.0 455.1C1267.2 457.6 1268.3 460.0 1269.5 462.5C1270.7 465.0 1271.8 467.4 1273.0 469.8C1274.2 472.3 1275.3 474.7 1276.5 477.1C1277.7 479.5 1278.8 481.9 1280.0 484.2C1281.2 486.6 1282.3 488.9 1283.5 491.3C1284.7 493.6 1285.8 495.9 1287.0 498.2C1288.2 500.4 1289.3 502.7 1290.5 504.9C1291.7 507.2 1292.8 509.4 1294.0 511.6C1295.2 513.7 1296.3 515.9 1297.5 518.0C1298.7 520.2 1299.8 522.3 1301.0 524.4C1302.2 526.4 1303.3 528.5 1304.5 530.5C1305.7 532.6 1306.8 534.6 1308.0 536.5C1309.2 538.5 1310.3 540.4 1311.5 542.4C1312.7 544.3 1313.8 546.1 1315.0 548.0C1316.2 549.8 1317.3 551.7 1318.5 553.4C1319.7 555.2 1320.8 557.0 1322.0 558.7C1323.2 560.4 1324.3 562.1 1325.5 563.7C1326.7 565.4 1327.8 567.0 1329.0 568.5C1330.2 570.1 1331.3 571.6 1332.5 573.1C1333.7 574.6 1334.8 576.1 1336.0 577.5C1337.2 578.9 1338.3 580.3 1339.5 581.6C1340.7 583.0 1341.8 584.3 1343.0 585.5C1344.2 586.8 1345.3 588.0 1346.5 589.2C1347.7 590.3 1348.8 591.4 1350.0 592.5C1351.2 593.6 1352.3 594.6 1353.5 595.6C1354.7 596.6 1355.8 597.6 1357.0 598.5C1358.2 599.4 1359.3 600.2 1360.5 601.0C1361.7 601.8 1362.8 602.6 1364.0 603.3C1365.2 604.1 1366.3 604.8 1367.5 605.4C1368.7 606.1 1369.8 606.7 1371.0 607.2C1372.2 607.8 1373.3 608.3 1374.5 608.8C1375.7 609.3 1376.8 609.8 1378.0 610.2C1379.2 610.6 1380.3 611.0 1381.5 611.4C1382.7 611.7 1383.8 612.1 1385.0 612.4C1386.2 612.7 1387.3 612.9 1388.5 613.1C1389.7 613.4 1390.8 613.6 1392.0 613.7C1393.2 613.9 1394.3 614.1 1395.5 614.2C1396.7 614.3 1397.8 614.4 1399.0 614.4C1400.2 614.5 1401.3 614.5 1402.5 614.5C1403.7 614.5 1404.8 614.5 1406.0 614.5C1407.2 614.4 1408.3 614.4 1409.5 614.3C1410.7 614.2 1411.8 614.1 1413.0 614.0C1414.2 613.9 1415.3 613.7 1416.5 613.6C1417.7 613.4 1418.8 613.2 1420.0 613.0C1421.2 612.8 1422.3 612.6 1423.5 612.4C1424.7 612.1 1425.8 611.9 1427.0 611.6C1428.2 611.4 1429.3 611.1 1430.5 610.8C1431.7 610.5 1432.8 610.2 1434.0 609.9C1435.2 609.6 1436.3 609.3 1437.5 608.9C1438.7 608.6 1439.8 608.2 1441.0 607.9C1442.2 607.5 1443.3 607.2 1444.5 606.8C1445.7 606.4 1446.8 606.1 1448.0 605.7C1449.2 605.3 1450.3 604.9 1451.5 604.5C1452.7 604.2 1453.8 603.8 1455.0 603.4C1456.2 603.0 1457.3 602.6 1458.5 602.2C1459.7 601.8 1460.8 601.4 1462.0 600.9C1463.2 600.5 1464.3 600.1 1465.5 599.7C1466.7 599.3 1467.8 598.9 1469.0 598.4C1470.2 598.0 1471.3 597.6 1472.5 597.2C1473.7 596.7 1474.8 596.3 1476.0 595.8C1477.2 595.4 1478.3 595.0 1479.5 594.5C1480.7 594.1 1481.8 593.6 1483.0 593.2C1484.2 592.7 1485.3 592.3 1486.5 591.8C1487.7 591.4 1488.8 590.9 1490.0 590.4C1491.2 590.0 1492.3 589.5 1493.5 589.0C1494.7 588.6 1495.8 588.1 1497.0 587.6C1498.2 587.2 1499.3 586.7 1500.5 586.2C1501.7 585.7 1502.8 585.3 1504.0 584.8C1505.2 584.3 1506.3 583.8 1507.5 583.3C1508.7 582.8 1509.8 582.3 1511.0 581.8C1512.2 581.4 1513.4 580.8 1514.5 580.4C1515.6 579.9 1517.0 579.3 1517.5 579.1"/>
<path stroke="#f00" d="M177.5 721.8C178.1 722.6 179.8 724.9 181.0 726.5C182.2 728.1 183.3 729.8 184.5 731.4C185.7 733.1 186.8 734.8 188.0 736.5C189.2 738.2 190.3 740.0 191.5 741.7C192.7 743.4 193.8 745.1 195.0 746.8C196.2 748.5 197.3 750.2 198.5 751.8C199.7 753.4 200.8 755.1 202.0 756.6C203.2 758.2 204.3 759.7 205.5 761.1C206.7 762.5 207.8 763.9 209.0 765.2C210.2 766.5 211.3 767.7 212.5 768.8C213.7 770.0 214.8 771.0 216.0 772.0C217.2 773.0 218.3 774.0 219.5 774.8C220.7 775.7 221.8 776.5 223.0 777.2C224.2 778.0 225.3 778.6 226.5 779.3C227.7 779.9 228.8 780.4 230.0 780.9C231.2 781.4 232.3 781.8 233.5 782.2C234.7 782.6 235.8 782.9 237.0 783.2C238.2 783.4 239.3 783.6 240.5 783.8C241.7 784.0 242.8 784.1 244.0 784.1C245.2 784.2 246.3 784.2 247.5 784.2C248.7 784.1 249.8 784.1 251.0 784.0C252.2 783.8 253.3 783.7 254.5 783.5C255.7 783.3 256.8 783.0 258.0 782.7C259.2 782.5 260.3 782.1 261.5 781.8C262.7 781.4 263.8 781.1 265.0 780.6C266.2 780.2 267.3 779.8 268.5 779.3C269.7 778.8 270.8 778.3 272.0 777.7C273.2 777.2 274.3 776.6 275.5 776.0C276.7 775.3 277.8 774.7 279.0 774.0C280.2 773.3 281.3 772.6 282.5 771.9C283.7 771.2 284.8 770.4 286.0 769.6C287.2 768.8 288.3 768.0 289.5 767.1C290.7 766.3 291.8 765.4 293.0 764.5C294.2 763.5 295.3 762.6 296.5 761.6C297.7 760.7 298.8 759.7 300.0 758.7C301.2 757.6 302.3 756.6 303.5 755.5C304.7 754.5 305.8 753.4 307.0 752.2C308.2 751.1 309.3 750.0 310.5 748.8C311.7 747.6 312.8 746.4 314.0 745.2C315.2 744.0 316.3 742.8 317.5 741.5C318.7 740.3 319.8 739.0 321.0 737.7C322.2 736.4 323.3 735.0 324.5 733.7C325.7 732.3 326.8 731.0 328.0 729.6C329.2 728.2 330.3 726.8 331.5 725.4C332.7 723.9 333.8 722.5 335.0 721.0C336.2 719.6 337.3 718.1 338.5 716.6C339.7 715.1 340.8 713.6 342.0 712.1C343.2 710.6 344.3 709.1 345.5 707.6C346.7 706.0 347.8 704.5 349.0 703.0C350.2 701.4 351.3 699.9 352.5 698.3C353.7 696.7 354.8 695.2 356.0 693.6C357.2 692.0 358.3 690.5 359.5 688.9C360.7 687.3 361.8 685.7 363.0 684.2C364.2 682.6 365.3 681.0 366.5 679.5C367.7 677.9 368.8 676.3 370.0 674.7C371.2 673.2 372.3 671.6 373.5 670.1C374.7 668.5 375.8 667.0 377.0 665.4C378.2 663.9 379.3 662.4 380.5 660.8C381.7 659.3 382.8 657.8 384.0 656.3C385.2 654.8 386.3 653.3 387.5 651.8C388.7 650.4 389.8 648.9 391.0 647.5C392.2 646.0 393.3 644.6 394.5 643.2C395.7 641.8 396.8 640.4 398.0 639.0C399.2 637.6 400.3 636.3 401.5 634.9C402.7 633.5 403.8 632.2 405.0 630.8C406.2 629.5 407.3 628.2 408.5 626.9C409.7 625.5 410.8 624.2 412.0 622.9C413.2 621.6 414.3 620.3 415.5 619.0C416.7 617.7 417.8 616.4 419.0 615.1C420.2 613.8 421.3 612.5 422.5 611.2C423.7 609.9 424.8 608.7 426.0 607.4C427.2 606.1 428.3 604.8 429.5 603.5C430.7 602.2 431.8 600.9 433.0 599.6C434.2 598.3 435.3 597.0 436.5 595.6C437.7 594.3 438.8 593.0 440.0 591.6C441.2 590.3 442.3 589.0 443.5 587.6C444.7 586.3 445.8 584.9 447.0 583.5C448.2 582.1 449.3 580.7 450.5 579.3C451.7 577.9 452.8 576.5 454.0 575.0C455.2 573.6 456.3 572.1 457.5 570.6C458.7 569.1 459.8 567.6 461.0 566.0C462.2 564.5 463.3 562.9 464.5 561.3C465.7 559.7 466.8 558.0 468.0 556.3C469.2 554.6 470.3 552.9 471.5 551.1C472.7 549.4 473.8 547.6 475.0 545.7C476.2 543.8 477.3 541.9 478.5 540.0C479.7 538.0 480.8 536.1 482.0 534.0C483.2 531.9 484.3 529.8 485.5 527.7C486.7 525.5 487.8 523.3 489.0 521.0C490.2 518.7 491.3 516.4 492.5 514.0C493.7 511.6 494.8 509.1 496.0 506.6C497.2 504.1 498.3 501.5 499.5 498.9C500.7 496.3 501.8 493.6 503.0 490.9C504.2 488.2 505.3 485.4 506.5 482.6C507.7 479.9 508.8 477.0 510.0 474.2C511.2 471.4 512.3 468.5 513.5 465.6C514.7 462.7 515.8 459.8 517.0 456.9C518.2 454.0 519.3 451.1 520.5 448.1C521.7 445.2 522.8 442.3 524.0 439.3C525.2 436.4 526.3 433.4 527.5 430.5C528.7 427.6 529.8 424.7 531.0 421.8C532.2 418.9 533.3 416.0 534.5 413.1C535.7 410.3 536.8 407.4 538.0 404.6C539.2 401.8 540.3 399.0 541.5 396.2C542.7 393.5 543.8 390.7 545.0 388.0C546.2 385.3 547.3 382.6 548.5 380.0C549.7 377.3 550.8 374.7 552.0 372.2C553.2 369.6 554.3 367.0 555.5 364.5C556.7 362.1 557.8 359.6 559.0 357.2C560.2 354.8 561.3 352.4 562.5 350.1C563.7 347.8 564.8 345.5 566.0 343.3C567.2 341.1 568.3 338.9 569.5 336.8C570.7 334.7 571.8 332.6 573.0 330.6C574.2 328.6 575.3 326.7 576.5 324.8C577.7 322.9 578.8 321.1 580.0 319.3C581.2 317.6 582.3 315.9 583.5 314.2C584.7 312.6 585.8 311.0 587.0 309.5C588.2 308.0 589.3 306.5 590.5 305.1C591.7 303.7 592.8 302.4 594.0 301.1C595.2 299.8 596.3 298.5 597.5 297.3C598.7 296.1 599.8 295.0 601.0 293.9C602.2 292.8 603.3 291.8 604.5 290.8C605.7 289.8 606.8 288.9 608.0 288.0C609.2 287.1 610.3 286.3 611.5 285.4C612.7 284.6 613.8 283.9 615.0 283.2C616.2 282.5 617.3 281.8 618.5 281.2C619.7 280.5 620.8 280.0 622.0 279.5C623.2 279.0 624.3 278.5 625.5 278.2C626.7 277.8 627.8 277.5 629.0 277.3C630.2 277.1 631.3 276.9 632.5 276.9C633.7 276.8 634.8 276.9 636.0 277.0C637.2 277.2 638.3 277.4 639.5 277.8C640.7 278.2 641.8 278.6 643.0 279.2C644.2 279.8 645.3 280.5 646.5 281.4C647.7 282.2 648.8 283.2 650.0 284.3C651.2 285.4 652.3 286.7 653.5 288.1C654.7 289.5 655.8 291.1 657.0 292.8C658.2 294.5 659.3 296.4 660.5 298.4C661.7 300.4 662.8 302.6 664.0 304.8C665.2 307.1 666.3 309.5 667.5 312.1C668.7 314.6 669.8 317.2 671.0 319.9C672.2 322.7 673.3 325.5 674.5 328.4C675.7 331.3 676.8 334.3 678.0 337.4C679.2 340.4 680.3 343.6 681.5 346.8C682.7 350.0 683.8 353.3 685.0 356.6C686.2 359.9 687.3 363.2 688.5 366.6C689.7 370.0 690.8 373.4 692.0 376.8C693.2 380.2 694.3 383.7 695.5 387.1C696.7 390.6 697.8 394.0 699.0 397.5C700.2 400.9 701.3 404.3 702.5 407.7C703.7 411.1 704.8 414.5 706.0 417.7C707.2 421.0 708.3 424.1 709.5 427.0C710.7 429.9 711.8 432.7 713.0 435.1C714.2 437.6 715.3 439.8 716.5 441.9C717.7 443.9 718.8 445.7 720.0 447.2C721.2 448.8 722.3 450.1 723.5 451.2C724.7 452.3 725.8 453.1 727.0 453.7C728.2 454.3 729.3 454.6 730.5 454.6C731.7 454.7 732.8 454.4 734.0 453.9C735.2 453.4 736.3 452.6 737.5 451.5C738.7 450.4 739.8 449.0 741.0 447.3C742.2 445.6 743.3 443.6 744.5 441.2C745.7 438.8 746.8 436.1 748.0 433.1C749.2 430.0 750.3 426.6 751.5 422.9C752.7 419.1 753.8 415.0 755.0 410.4C756.2 405.9 757.3 400.9 758.5 395.6C759.7 390.3 760.8 384.6 762.0 378.6C763.2 372.6 764.3 366.2 765.5 359.6C766.7 353.1 767.8 346.2 769.0 339.2C770.2 332.2 771.3 325.0 772.5 317.7C773.7 310.4 774.8 302.9 776.0 295.4C777.2 288.0 778.3 280.4 779.5 272.9C780.7 265.4 781.8 257.8 783.0 250.3C784.2 242.8 785.3 235.3 786.5 227.9C787.7 220.5 788.8 213.2 790.0 206.0C791.2 198.8 792.3 191.7 793.5 184.8C794.7 177.9 795.8 171.2 797.0 164.6C798.2 158.1 799.3 151.8 800.5 145.7C801.7 139.7 802.8 133.8 804.0 128.2C805.2 122.6 806.3 117.3 807.5 112.2C808.7 107.1 809.8 102.3 811.0 97.7C812.2 93.2 813.3 88.9 814.5 84.9C815.7 80.9 816.8 77.1 818.0 73.7C819.2 70.3 820.3 67.1 821.5 64.3C822.7 61.4 823.8 58.8 825.0 56.6C826.2 54.4 827.3 52.4 828.5 50.8C829.7 49.2 830.8 47.8 832.0 46.8C833.2 45.8 834.3 45.0 835.5 44.5C836.7 44.1 837.8 43.9 839.0 44.0C840.2 44.1 841.3 44.4 842.5 45.0C843.7 45.7 844.8 46.5 846.0 47.7C847.2 48.8 848.3 50.2 849.5 51.8C850.7 53.5 851.8 55.3 853.0 57.4C854.2 59.5 855.3 61.9 856.5 64.4C857.7 67.0 858.8 69.7 860.0 72.7C861.2 75.7 862.3 78.8 863.5 82.1C864.7 85.5 865.8 89.0 867.0 92.7C868.2 96.3 869.3 100.2 870.5 104.1C871.7 108.1 872.8 112.2 874.0 116.4C875.2 120.6 876.3 125.0 877.5 129.5C878.7 133.9 879.8 138.5 881.0 143.1C882.2 147.8 883.3 152.5 884.5 157.3C885.7 162.1 886.8 167.0 888.0 171.9C889.2 176.8 890.3 181.8 891.5 186.7C892.7 191.7 893.8 196.8 895.0 201.8C896.2 206.8 897.3 211.9 898.5 216.9C899.7 222.0 900.8 227.0 902.0 232.0C903.2 237.1 904.3 242.1 905.5 247.0C906.7 252.0 907.8 256.9 909.0 261.8C910.2 266.7 911.3 271.5 912.5 276.3C913.7 281.1 914.8 285.9 916.0 290.6C917.2 295.3 918.3 299.9 919.5 304.5C920.7 309.1 921.8 313.7 923.0 318.1C924.2 322.6 925.3 327.0 926.5 331.4C927.7 335.7 928.8 340.0 930.0 344.2C931.2 348.4 932.3 352.6 933.5 356.6C934.7 360.6 935.8 364.6 937.0 368.5C938.2 372.4 939.3 376.2 940.5 379.9C941.7 383.6 942.8 387.2 944.0 390.7C945.2 394.3 946.3 397.7 947.5 401.0C948.7 404.3 949.8 407.6 951.0 410.7C952.2 413.8 953.3 416.9 954.5 419.8C955.7 422.8 956.8 425.6 958.0 428.4C959.2 431.1 960.3 433.8 961.5 436.4C962.7 438.9 963.8 441.4 965.0 443.8C966.2 446.2 967.3 448.5 968.5 450.7C969.7 452.9 970.8 455.0 972.0 457.0C973.2 459.0 974.3 460.9 975.5 462.8C976.7 464.6 977.8 466.4 979.0 468.0C980.2 469.7 981.3 471.2 982.5 472.7C983.7 474.2 984.8 475.6 986.0 476.9C987.2 478.2 988.3 479.4 989.5 480.6C990.7 481.7 991.8 482.8 993.0 483.7C994.2 484.7 995.3 485.6 996.5 486.4C997.7 487.3 998.8 488.0 1000.0 488.7C1001.2 489.4 1002.3 490.1 1003.5 490.7C1004.7 491.2 1005.8 491.8 1007.0 492.2C1008.2 492.7 1009.3 493.1 1010.5 493.5C1011.7 493.9 1012.8 494.3 1014.0 494.6C1015.2 494.9 1016.3 495.2 1017.5 495.4C1018.7 495.6 1019.8 495.9 1021.0 496.1C1022.2 496.3 1023.3 496.4 1024.5 496.6C1025.7 496.8 1026.8 496.9 1028.0 497.0C1029.2 497.2 1030.3 497.3 1031.5 497.4C1032.7 497.6 1033.8 497.7 1035.0 497.8C1036.2 498.0 1037.3 498.1 1038.5 498.3C1039.7 498.4 1040.8 498.6 1042.0 498.8C1043.2 499.0 1044.3 499.2 1045.5 499.4C1046.7 499.6 1047.8 499.8 1049.0 500.1C1050.2 500.4 1051.3 500.6 1052.5 501.0C1053.7 501.3 1054.8 501.6 1056.0 502.0C1057.2 502.4 1058.3 502.8 1059.5 503.2C1060.7 503.7 1061.8 504.1 1063.0 504.6C1064.2 505.2 1065.3 505.7 1066.5 506.3C1067.7 506.9 1068.8 507.5 1070.0 508.2C1071.2 508.9 1072.3 509.7 1073.5 510.5C1074.7 511.2 1075.8 512.1 1077.0 513.0C1078.2 513.9 1079.3 514.8 1080.5 515.8C1081.7 516.8 1082.8 517.9 1084.0 519.0C1085.2 520.1 1086.3 521.3 1087.5 522.6C1088.7 523.8 1089.8 525.2 1091.0 526.5C1092.2 527.9 1093.3 529.3 1094.5 530.8C1095.7 532.3 1096.8 533.8 1098.0 535.4C1099.2 537.0 1100.3 538.6 1101.5 540.3C1102.7 541.9 1103.8 543.6 1105.0 545.4C1106.2 547.1 1107.3 548.9 1108.5 550.7C1109.7 552.5 1110.8 554.4 1112.0 556.3C1113.2 558.2 1114.3 560.1 1115.5 562.0C1116.7 563.9 1117.8 565.9 1119.0 567.9C1120.2 569.9 1121.3 571.9 1122.5 573.9C1123.7 575.9 1124.8 577.9 1126.0 580.0C1127.2 582.0 1128.3 584.1 1129.5 586.1C1130.7 588.2 1131.8 590.2 1133.0 592.3C1134.2 594.4 1135.3 596.5 1136.5 598.5C1137.7 600.6 1138.8 602.7 1140.0 604.7C1141.2 606.8 1142.3 608.8 1143.5 610.9C1144.7 612.9 1145.8 615.0 1147.0 617.0C1148.2 619.0 1149.3 621.1 1150.5 623.1C1151.7 625.1 1152.8 627.2 1154.0 629.2C1155.2 631.2 1156.3 633.2 1157.5 635.3C1158.7 637.3 1159.8 639.3 1161.0 641.3C1162.2 643.3 1163.3 645.3 1164.5 647.4C1165.7 649.4 1166.8 651.4 1168.0 653.4C1169.2 655.4 1170.3 657.4 1171.5 659.4C1172.7 661.5 1173.8 663.5 1175.0 665.5C1176.2 667.5 1177.3 669.5 1178.5 671.5C1179.7 673.6 1180.8 675.6 1182.0 677.6C1183.2 679.6 1184.3 681.6 1185.5 683.6C1186.7 685.7 1187.8 687.7 1189.0 689.7C1190.2 691.7 1191.3 693.7 1192.5 695.7C1193.7 697.7 1194.8 699.7 1196.0 701.7C1197.2 703.7 1198.3 705.7 1199.5 707.7C1200.7 709.7 1201.8 711.7 1203.0 713.7C1204.2 715.6 1205.3 717.6 1206.5 719.6C1207.7 721.5 1208.8 723.5 1210.0 725.4C1211.2 727.4 1212.3 729.3 1213.5 731.3C1214.7 733.2 1215.8 735.1 1217.0 737.0C1218.2 738.9 1219.3 740.8 1220.5 742.7C1221.7 744.6 1222.8 746.5 1224.0 748.4C1225.2 750.2 1226.3 752.1 1227.5 753.9C1228.7 755.8 1229.8 757.6 1231.0 759.4C1232.2 761.3 1233.3 763.1 1234.5 764.8C1235.7 766.6 1236.8 768.4 1238.0 770.2C1239.2 771.9 1240.3 773.7 1241.5 775.4C1242.7 777.1 1243.8 778.8 1245.0 780.5C1246.2 782.2 1247.3 783.9 1248.5 785.5C1249.7 787.2 1250.8 788.8 1252.0 790.4C1253.2 792.0 1254.3 793.6 1255.5 795.2C1256.7 796.8 1257.8 798.3 1259.0 799.8C1260.2 801.4 1261.3 802.9 1262.5 804.4C1263.7 805.8 1264.8 807.3 1266.0 808.7C1267.2 810.2 1268.3 811.6 1269.5 813.0C1270.7 814.4 1271.8 815.7 1273.0 817.1C1274.2 818.4 1275.3 819.7 1276.5 821.0C1277.7 822.3 1278.8 823.5 1280.0 824.8C1281.2 826.0 1282.3 827.2 1283.5 828.4C1284.7 829.6 1285.8 830.7 1287.0 831.9C1288.2 833.0 1289.3 834.1 1290.5 835.2C1291.7 836.3 1292.8 837.3 1294.0 838.3C1295.2 839.4 1296.3 840.4 1297.5 841.4C1298.7 842.3 1299.8 843.3 1301.0 844.2C1302.2 845.2 1303.3 846.1 1304.5 847.0C1305.7 847.9 1306.8 848.7 1308.0 849.6C1309.2 850.4 1310.3 851.3 1311.5 852.1C1312.7 852.9 1313.8 853.6 1315.0 854.4C1316.2 855.2 1317.3 855.9 1318.5 856.6C1319.7 857.3 1320.8 858.0 1322.0 858.7C1323.2 859.4 1324.3 860.0 1325.5 860.7C1326.7 861.3 1327.8 861.9 1329.0 862.5C1330.2 863.1 1331.3 863.7 1332.5 864.2C1333.7 864.8 1334.8 865.3 1336.0 865.8C1337.2 866.3 1338.3 866.8 1339.5 867.3C1340.7 867.8 1341.8 868.3 1343.0 868.7C1344.2 869.2 1345.3 869.6 1346.5 870.0C1347.7 870.4 1348.8 870.8 1350.0 871.2C1351.2 871.6 1352.3 871.9 1353.5 872.3C1354.7 872.6 1355.8 872.9 1357.0 873.2C1358.2 873.6 1359.3 873.9 1360.5 874.1C1361.7 874.4 1362.8 874.7 1364.0 874.9C1365.2 875.2 1366.3 875.4 1367.5 875.6C1368.7 875.9 1369.8 876.1 1371.0 876.3C1372.2 876.5 1373.3 876.7 1374.5 876.8C1375.7 877.0 1376.8 877.1 1378.0 877.3C1379.2 877.4 1380.3 877.6 1381.5 877.7C1382.7 877.8 1383.8 877.9 1385.0 878.0C1386.2 878.1 1387.3 878.2 1388.5 878.2C1389.7 878.3 1390.8 878.4 1392.0 878.4C1393.2 878.5 1394.3 878.5 1395.5 878.5C1396.7 878.6 1397.8 878.6 1399.0 878.6C1400.2 878.6 1401.3 878.6 1402.5 878.6C1403.7 878.6 1404.8 878.6 1406.0 878.5C1407.2 878.5 1408.3 878.5 1409.5 878.4C1410.7 878.4 1411.8 878.3 1413.0 878.3C1414.2 878.2 1415.3 878.1 1416.5 878.1C1417.7 878.0 1418.8 877.9 1420.0 877.8C1421.2 877.7 1422.3 877.6 1423.5 877.5C1424.7 877.4 1425.8 877.3 1427.0 877.2C1428.2 877.1 1429.3 877.0 1430.5 876.8C1431.7 876.7 1432.8 876.6 1434.0 876.4C1435.2 876.3 1436.3 876.2 1437.5 876.0C1438.7 875.9 1439.8 875.7 1441.0 875.5C1442.2 875.4 1443.3 875.2 1444.5 875.0C1445.7 874.8 1446.8 874.7 1448.0 874.5C1449.2 874.3 1450.3 874.1 1451.5 873.9C1452.7 873.7 1453.8 873.5 1455.0 873.3C1456.2 873.0 1457.3 872.8 1458.5 872.6C1459.7 872.4 1460.8 872.1 1462.0 871.9C1463.2 871.6 1464.3 871.4 1465.5 871.1C1466.7 870.9 1467.8 870.6 1469.0 870.3C1470.2 870.1 1471.3 869.8 1472.5 869.5C1473.7 869.2 1474.8 868.9 1476.0 868.6C1477.2 868.3 1478.3 868.0 1479.5 867.7C1480.7 867.4 1481.8 867.0 1483.0 866.7C1484.2 866.4 1485.3 866.0 1486.5 865.7C1487.7 865.4 1488.8 865.0 1490.0 864.6C1491.2 864.3 1492.3 863.9 1493.5 863.5C1494.7 863.2 1495.8 862.8 1497.0 862.4C1498.2 862.0 1499.3 861.6 1500.5 861.2C1501.7 860.8 1502.8 860.4 1504.0 860.0C1505.2 859.5 1506.3 859.1 1507.5 858.7C1508.7 858.2 1509.8 857.8 1511.0 857.3C1512.2 856.9 1513.4 856.4 1514.5 855.9C1515.6 855.5 1517.0 854.9 1517.5 854.7"/>
<path stroke="#f00" stroke-width="7" shape-rendering="geometricPrecision" d="M177.5 721.8C178.1 722.6 179.8 724.9 181.0 726.5C182.2 728.1 183.3 729.8 184.5 731.4C185.7 733.1 186.8 734.8 188.0 736.5C189.2 738.2 190.3 740.0 191.5 741.7C192.7 743.4 193.8 745.1 195.0 746.8C196.2 748.5 197.3 750.2 198.5 751.8C199.7 753.4 200.8 755.1 202.0 756.6C203.2 758.2 204.3 759.7 205.5 761.1C206.7 762.5 207.8 763.9 209.0 765.2C210.2 766.5 211.3 767.7 212.5 768.8C213.7 770.0 214.8 771.0 216.0 772.0C217.2 773.0 218.3 774.0 219.5 774.8C220.7 775.7 221.8 776.5 223.0 777.2C224.2 778.0 225.3 778.6 226.5 779.3C227.7 779.9 228.8 780.4 230.0 780.9C231.2 781.4 232.3 781.8 233.5 782.2C234.7 782.6 235.8 782.9 237.0 783.2C238.2 783.4 239.3 783.6 240.5 783.8C241.7 784.0 242.8 784.1 244.0 784.1C245.2 784.2 246.3 784.2 247.5 784.2C248.7 784.1 249.8 784.1 251.0 784.0C252.2 783.8 253.3 783.7 254.5 783.5C255.7 783.3 256.8 783.0 258.0 782.7C259.2 782.5 260.3 782.1 261.5 781.8C262.7 781.4 263.8 781.1 265.0 780.6C266.2 780.2 267.3 779.8 268.5 779.3C269.7 778.8 270.8 778.3 272.0 777.7C273.2 777.2 274.3 776.6 275.5 776.0C276.7 775.3 277.8 774.7 279.0 774.0C280.2 773.3 281.3 772.6 282.5 771.9C283.7 771.2 284.8 770.4 286.0 769.6C287.2 768.8 288.3 768.0 289.5 767.1C290.7 766.3 291.8 765.4 293.0 764.5C294.2 763.5 295.3 762.6 296.5 761.6C297.7 760.7 298.8 759.7 300.0 758.7C301.2 757.6 302.3 756.6 303.5 755.5C304.7 754.5 305.8 753.4 307.0 752.2C308.2 751.1 309.3 750.0 310.5 748.8C311.7 747.6 312.8 746.4 314.0 745.2C315.2 744.0 316.3 742.8 317.5 741.5C318.7 740.3 319.8 739.0 321.0 737.7C322.2 736.4 323.3 735.0 324.5 733.7C325.7 732.3 326.8 731.0 328.0 729.6C329.2 728.2 330.3 726.8 331.5 725.4C332.7 723.9 333.8 722.5 335.0 721.0C336.2 719.6 337.3 718.1 338.5 716.6C339.7 715.1 340.8 713.6 342.0 712.1C343.2 710.6 344.3 709.1 345.5 707.6C346.7 706.0 347.8 704.5 349.0 703.0C350.2 701.4 351.3 699.9 352.5 698.3C353.7 696.7 354.8 695.2 356.0 693.6C357.2 692.0 358.3 690.5 359.5 688.9C360.7 687.3 361.8 685.7 363.0 684.2C364.2 682.6 365.3 681.0 366.5 679.5C367.7 677.9 368.8 676.3 370.0 674.7C371.2 673.2 372.3 671.6 373.5 670.1C374.7 668.5 375.8 667.0 377.0 665.4C378.2 663.9 379.3 662.4 380.5 660.8C381.7 659.3 382.8 657.8 384.0 656.3C385.2 654.8 386.3 653.3 387.5 651.8C388.7 650.4 389.8 648.9 391.0 647.5C392.2 646.0 393.3 644.6 394.5 643.2C395.7 641.8 396.8 640.4 398.0 639.0C399.2 637.6 400.3 636.3 401.5 634.9C402.7 633.5 403.8 632.2 405.0 630.8C406.2 629.5 407.3 628.2 408.5 626.9C409.7 625.5 410.8 624.2 412.0 622.9C413.2 621.6 414.3 620.3 415.5 619.0C416.7 617.7 417.8 616.4 419.0 615.1C420.2 613.8 421.3 612.5 422.5 611.2C423.7 609.9 424.8 608.7 426.0 607.4C427.2 606.1 428.3 604.8 429.5 603.5C430.7 602.2 431.8 600.9 433.0 599.6C434.2 598.3 435.3 597.0 436.5 595.6C437.7 594.3 438.8 593.0 440.0 591.6C441.2 590.3 442.3 589.0 443.5 587.6C444.7 586.3 445.8 584.9 447.0 583.5C448.2 582.1 449.3 580.7 450.5 579.3C451.7 577.9 452.8 576.5 454.0 575.0C455.2 573.6 456.3 572.1 457.5 570.6C458.7 569.1 459.8 567.6 461.0 566.0C462.2 564.5 463.3 562.9 464.5 561.3C465.7 559.7 466.8 558.0 468.0 556.3C469.2 554.6 470.3 552.9 471.5 551.1C472.7 549.4 473.8 547.6 475.0 545.7C476.2 543.8 477.3 541.9 478.5 540.0C479.7 538.0 480.8 536.1 482.0 534.0C483.2 531.9 484.3 529.8 485.5 527.7C486.7 525.5 487.8 523.3 489.0 521.0C490.2 518.7 491.3 516.4 492.5 514.0C493.7 511.6 494.8 509.1 496.0 506.6C497.2 504.1 498.3 501.5 499.5 498.9C500.7 496.3 501.8 493.6 503.0 490.9C504.2 488.2 505.3 485.4 506.5 482.6C507.7 479.9 508.8 477.0 510.0 474.2C511.2 471.4 512.3 468.5 513.5 465.6C514.7 462.7 515.8 459.8 517.0 456.9C518.2 454.0 519.3 451.1 520.5 448.1C521.7 445.2 522.8 442.3 524.0 439.3C525.2 436.4 526.3 433.4 527.5 430.5C528.7 427.6 529.8 424.7 531.0 421.8C532.2 418.9 533.3 416.0 534.5 413.1C535.7 410.3 536.8 407.4 538.0 404.6C539.2 401.8 540.3 399.0 541.5 396.2C542.7 393.5 543.8 390.7 545.0 388.0C546.2 385.3 547.3 382.6 548.5 380.0C549.7 377.3 550.8 374.7 552.0 372.2C553.2 369.6 554.3 367.0 555.5 364.5C556.7 362.1 557.8 359.6 559.0 357.2C560.2 354.8 561.3 352.4 562.5 350.1C563.7 347.8 564.8 345.5 566.0 343.3C567.2 341.1 568.3 338.9 569.5 336.8C570.7 334.7 571.8 332.6 573.0 330.6C574.2 328.6 575.3 326.7 576.5 324.8C577.7 322.9 578.8 321.1 580.0 319.3C581.2 317.6 582.3 315.9 583.5 314.2C584.7 312.6 585.8 311.0 587.0 309.5C588.2 308.0 589.3 306.5 590.5 305.1C591.7 303.7 592.8 302.4 594.0 301.1C595.2 299.8 596.3 298.5 597.5 297.3C598.7 296.1 599.8 295.0 601.0 293.9C602.2 292.8 603.3 291.8 604.5 290.8C605.7 289.8 606.8 288.9 608.0 288.0C609.2 287.1 610.3 286.3 611.5 285.4C612.7 284.6 613.8 283.9 615.0 283.2C616.2 282.5 617.3 281.8 618.5 281.2C619.7 280.5 620.8 280.0 622.0 279.5C623.2 279.0 624.3 278.5 625.5 278.2C626.7 277.8 627.8 277.5 629.0 277.3C630.2 277.1 631.3 276.9 632.5 276.9C633.7 276.8 634.8 276.9 636.0 277.0C637.2 277.2 638.3 277.4 639.5 277.8C640.7 278.2 641.8 278.6 643.0 279.2C644.2 279.8 645.3 280.5 646.5 281.4C647.7 282.2 648.8 283.2 650.0 284.3C651.2 285.4 652.3 286.7 653.5 288.1C654.7 289.5 655.8 291.1 657.0 292.8C658.2 294.5 659.3 296.4 660.5 298.4C661.7 300.4 662.8 302.6 664.0 304.8C665.2 307.1 666.3 309.5 667.5 312.1C668.7 314.6 669.8 317.2 671.0 319.9C672.2 322.7 673.3 325.5 674.5 328.4C675.7 331.3 676.8 334.3 678.0 337.4C679.2 340.4 680.3 343.6 681.5 346.8C682.7 350.0 683.8 353.3 685.0 356.6C686.2 359.9 687.3 363.2 688.5 366.6C689.7 370.0 690.8 373.4 692.0 376.8C693.2 380.2 694.3 383.7 695.5 387.1C696.7 390.6 697.8 394.0 699.0 397.5C700.2 400.9 701.3 404.3 702.5 407.7C703.7 411.1 704.8 414.5 706.0 417.7C707.2 421.0 708.3 424.1 709.5 427.0C710.7 429.9 711.8 432.7 713.0 435.1C714.2 437.6 715.3 439.8 716.5 441.9C717.7 443.9 718.8 445.7 720.0 447.2C721.2 448.8 722.3 450.1 723.5 451.2C724.7 452.3 725.8 453.1 727.0 453.7C728.2 454.3 729.3 454.6 730.5 454.6C731.7 454.7 732.8 454.4 734.0 453.9C735.2 453.4 736.3 452.6 737.5 451.5C738.7 450.4 739.8 449.0 741.0 447.3C742.2 445.6 743.3 443.6 744.5 441.2C745.7 438.8 746.8 436.1 748.0 433.1C749.2 430.0 750.3 426.6 751.5 422.9C752.7 419.1 753.8 415.0 755.0 410.4C756.2 405.9 757.3 400.9 758.5 395.6C759.7 390.3 760.8 384.6 762.0 378.6C763.2 372.6 764.3 366.2 765.5 359.6C766.7 353.1 767.8 346.2 769.0 339.2C770.2 332.2 771.3 325.0 772.5 317.7C773.7 310.4 774.8 302.9 776.0 295.4C777.2 288.0 778.3 280.4 779.5 272.9C780.7 265.4 781.8 257.8 783.0 250.3C784.2 242.8 785.3 235.3 786.5 227.9C787.7 220.5 788.8 213.2 790.0 206.0C791.2 198.8 792.3 191.7 793.5 184.8C794.7 177.9 795.8 171.2 797.0 164.6C798.2 158.1 799.3 151.8 800.5 145.7C801.7 139.7 802.8 133.8 804.0 128.2C805.2 122.6 806.3 117.3 807.5 112.2C808.7 107.1 809.8 102.3 811.0 97.7C812.2 93.2 813.3 88.9 814.5 84.9C815.7 80.9 816.8 77.1 818.0 73.7C819.2 70.3 820.3 67.1 821.5 64.3C822.7 61.4 823.8 58.8 825.0 56.6C826.2 54.4 827.3 52.4 828.5 50.8C829.7 49.2 830.8 47.8 832.0 46.8C833.2 45.8 834.3 45.0 835.5 44.5C836.7 44.1 837.8 43.9 839.0 44.0C840.2 44.1 841.3 44.4 842.5 45.0C843.7 45.7 844.8 46.5 846.0 47.7C847.2 48.8 848.3 50.2 849.5 51.8C850.7 53.5 851.8 55.3 853.0 57.4C854.2 59.5 855.3 61.9 856.5 64.4C857.7 67.0 858.8 69.7 860.0 72.7C861.2 75.7 862.3 78.8 863.5 82.1C864.7 85.5 865.8 89.0 867.0 92.7C868.2 96.3 869.3 100.2 870.5 104.1C871.7 108.1 872.8 112.2 874.0 116.4C875.2 120.6 876.3 125.0 877.5 129.5C878.7 133.9 879.8 138.5 881.0 143.1C882.2 147.8 883.3 152.5 884.5 157.3C885.7 162.1 886.8 167.0 888.0 171.9C889.2 176.8 890.3 181.8 891.5 186.7C892.7 191.7 893.8 196.8 895.0 201.8C896.2 206.8 897.3 211.9 898.5 216.9C899.7 222.0 900.8 227.0 902.0 232.0C903.2 237.1 904.3 242.1 905.5 247.0C906.7 252.0 907.8 256.9 909.0 261.8C910.2 266.7 911.3 271.5 912.5 276.3C913.7 281.1 914.8 285.9 916.0 290.6C917.2 295.3 918.3 299.9 919.5 304.5C920.7 309.1 921.8 313.7 923.0 318.1C924.2 322.6 925.3 327.0 926.5 331.4C927.7 335.7 928.8 340.0 930.0 344.2C931.2 348.4 932.3 352.6 933.5 356.6C934.7 360.6 935.8 364.6 937.0 368.5C938.2 372.4 939.3 376.2 940.5 379.9C941.7 383.6 942.8 387.2 944.0 390.7C945.2 394.3 946.3 397.7 947.5 401.0C948.7 404.3 949.8 407.6 951.0 410.7C952.2 413.8 953.3 416.9 954.5 419.8C955.7 422.8 956.8 425.6 958.0 428.4C959.2 431.1 960.3 433.8 961.5 436.4C962.7 438.9 963.8 441.4 965.0 443.8C966.2 446.2 967.3 448.5 968.5 450.7C969.7 452.9 970.8 455.0 972.0 457.0C973.2 459.0 974.3 460.9 975.5 462.8C976.7 464.6 977.8 466.4 979.0 468.0C980.2 469.7 981.3 471.2 982.5 472.7C983.7 474.2 984.8 475.6 986.0 476.9C987.2 478.2 988.3 479.4 989.5 480.6C990.7 481.7 991.8 482.8 993.0 483.7C994.2 484.7 995.3 485.6 996.5 486.4C997.7 487.3 998.8 488.0 1000.0 488.7C1001.2 489.4 1002.3 490.1 1003.5 490.7C1004.7 491.2 1005.8 491.8 1007.0 492.2C1008.2 492.7 1009.3 493.1 1010.5 493.5C1011.7 493.9 1012.8 494.3 1014.0 494.6C1015.2 494.9 1016.3 495.2 1017.5 495.4C1018.7 495.6 1019.8 495.9 1021.0 496.1C1022.2 496.3 1023.3 496.4 1024.5 496.6C1025.7 496.8 1026.8 496.9 1028.0 497.0C1029.2 497.2 1030.3 497.3 1031.5 497.4C1032.7 497.6 1033.8 497.7 1035.0 497.8C1036.2 498.0 1037.3 498.1 1038.5 498.3C1039.7 498.4 1040.8 498.6 1042.0 498.8C1043.2 499.0 1044.3 499.2 1045.5 499.4C1046.7 499.6 1047.8 499.8 1049.0 500.1C1050.2 500.4 1051.3 500.6 1052.5 501.0C1053.7 501.3 1054.8 501.6 1056.0 502.0C1057.2 502.4 1058.3 502.8 1059.5 503.2C1060.7 503.7 1061.8 504.1 1063.0 504.6C1064.2 505.2 1065.3 505.7 1066.5 506.3C1067.7 506.9 1068.8 507.5 1070.0 508.2C1071.2 508.9 1072.3 509.7 1073.5 510.5C1074.7 511.2 1075.8 512.1 1077.0 513.0C1078.2 513.9 1079.3 514.8 1080.5 515.8C1081.7 516.8 1082.8 517.9 1084.0 519.0C1085.2 520.1 1086.3 521.3 1087.5 522.6C1088.7 523.8 1089.8 525.2 1091.0 526.5C1092.2 527.9 1093.3 529.3 1094.5 530.8C1095.7 532.3 1096.8 533.8 1098.0 535.4C1099.2 537.0 1100.3 538.6 1101.5 540.3C1102.7 541.9 1103.8 543.6 1105.0 545.4C1106.2 547.1 1107.3 548.9 1108.5 550.7C1109.7 552.5 1110.8 554.4 1112.0 556.3C1113.2 558.2 1114.3 560.1 1115.5 562.0C1116.7 563.9 1117.8 565.9 1119.0 567.9C1120.2 569.9 1121.3 571.9 1122.5 573.9C1123.7 575.9 1124.8 577.9 1126.0 580.0C1127.2 582.0 1128.3 584.1 1129.5 586.1C1130.7 588.2 1131.8 590.2 1133.0 592.3C1134.2 594.4 1135.3 596.5 1136.5 598.5C1137.7 600.6 1138.8 602.7 1140.0 604.7C1141.2 606.8 1142.3 608.8 1143.5 610.9C1144.7 612.9 1145.8 615.0 1147.0 617.0C1148.2 619.0 1149.3 621.1 1150.5 623.1C1151.7 625.1 1152.8 627.2 1154.0 629.2C1155.2 631.2 1156.3 633.2 1157.5 635.3C1158.7 637.3 1159.8 639.3 1161.0 641.3C1162.2 643.3 1163.3 645.3 1164.5 647.4C1165.7 649.4 1166.8 651.4 1168.0 653.4C1169.2 655.4 1170.3 657.4 1171.5 659.4C1172.7 661.5 1173.8 663.5 1175.0 665.5C1176.2 667.5 1177.3 669.5 1178.5 671.5C1179.7 673.6 1180.8 675.6 1182.0 677.6C1183.2 679.6 1184.3 681.6 1185.5 683.6C1186.7 685.7 1187.8 687.7 1189.0 689.7C1190.2 691.7 1191.3 693.7 1192.5 695.7C1193.7 697.7 1194.8 699.7 1196.0 701.7C1197.2 703.7 1198.3 705.7 1199.5 707.7C1200.7 709.7 1201.8 711.7 1203.0 713.7C1204.2 715.6 1205.3 717.6 1206.5 719.6C1207.7 721.5 1208.8 723.5 1210.0 725.4C1211.2 727.4 1212.3 729.3 1213.5 731.3C1214.7 733.2 1215.8 735.1 1217.0 737.0C1218.2 738.9 1219.3 740.8 1220.5 742.7C1221.7 744.6 1222.8 746.5 1224.0 748.4C1225.2 750.2 1226.3 752.1 1227.5 753.9C1228.7 755.8 1229.8 757.6 1231.0 759.4C1232.2 761.3 1233.3 763.1 1234.5 764.8C1235.7 766.6 1236.8 768.4 1238.0 770.2C1239.2 771.9 1240.3 773.7 1241.5 775.4C1242.7 777.1 1243.8 778.8 1245.0 780.5C1246.2 782.2 1247.3 783.9 1248.5 785.5C1249.7 787.2 1250.8 788.8 1252.0 790.4C1253.2 792.0 1254.3 793.6 1255.5 795.2C1256.7 796.8 1257.8 798.3 1259.0 799.8C1260.2 801.4 1261.3 802.9 1262.5 804.4C1263.7 805.8 1264.8 807.3 1266.0 808.7C1267.2 810.2 1268.3 811.6 1269.5 813.0C1270.7 814.4 1271.8 815.7 1273.0 817.1C1274.2 818.4 1275.3 819.7 1276.5 821.0C1277.7 822.3 1278.8 823.5 1280.0 824.8C1281.2 826.0 1282.3 827.2 1283.5 828.4C1284.7 829.6 1285.8 830.7 1287.0 831.9C1288.2 833.0 1289.3 834.1 1290.5 835.2C1291.7 836.3 1292.8 837.3 1294.0 838.3C1295.2 839.4 1296.3 840.4 1297.5 841.4C1298.7 842.3 1299.8 843.3 1301.0 844.2C1302.2 845.2 1303.3 846.1 1304.5 847.0C1305.7 847.9 1306.8 848.7 1308.0 849.6C1309.2 850.4 1310.3 851.3 1311.5 852.1C1312.7 852.9 1313.8 853.6 1315.0 854.4C1316.2 855.2 1317.3 855.9 1318.5 856.6C1319.7 857.3 1320.8 858.0 1322.0 858.7C1323.2 859.4 1324.3 860.0 1325.5 860.7C1326.7 861.3 1327.8 861.9 1329.0 862.5C1330.2 863.1 1331.3 863.7 1332.5 864.2C1333.7 864.8 1334.8 865.3 1336.0 865.8C1337.2 866.3 1338.3 866.8 1339.5 867.3C1340.7 867.8 1341.8 868.3 1343.0 868.7C1344.2 869.2 1345.3 869.6 1346.5 870.0C1347.7 870.4 1348.8 870.8 1350.0 871.2C1351.2 871.6 1352.3 871.9 1353.5 872.3C1354.7 872.6 1355.8 872.9 1357.0 873.2C1358.2 873.6 1359.3 873.9 1360.5 874.1C1361.7 874.4 1362.8 874.7 1364.0 874.9C1365.2 875.2 1366.3 875.4 1367.5 875.6C1368.7 875.9 1369.8 876.1 1371.0 876.3C1372.2 876.5 1373.3 876.7 1374.5 876.8C1375.7 877.0 1376.8 877.1 1378.0 877.3C1379.2 877.4 1380.3 877.6 1381.5 877.7C1382.7 877.8 1383.8 877.9 1385.0 878.0C1386.2 878.1 1387.3 878.2 1388.5 878.2C1389.7 878.3 1390.8 878.4 1392.0 878.4C1393.2 878.5 1394.3 878.5 1395.5 878.5C1396.7 878.6 1397.8 878.6 1399.0 878.6C1400.2 878.6 1401.3 878.6 1402.5 878.6C1403.7 878.6 1404.8 878.6 1406.0 878.5C1407.2 878.5 1408.3 878.5 1409.5 878.4C1410.7 878.4 1411.8 878.3 1413.0 878.3C1414.2 878.2 1415.3 878.1 1416.5 878.1C1417.7 878.0 1418.8 877.9 1420.0 877.8C1421.2 877.7 1422.3 877.6 1423.5 877.5C1424.7 877.4 1425.8 877.3 1427.0 877.2C1428.2 877.1 1429.3 877.0 1430.5 876.8C1431.7 876.7 1432.8 876.6 1434.0 876.4C1435.2 876.3 1436.3 876.2 1437.5 876.0C1438.7 875.9 1439.8 875.7 1441.0 875.5C1442.2 875.4 1443.3 875.2 1444.5 875.0C1445.7 874.8 1446.8 874.7 1448.0 874.5C1449.2 874.3 1450.3 874.1 1451.5 873.9C1452.7 873.7 1453.8 873.5 1455.0 873.3C1456.2 873.0 1457.3 872.8 1458.5 872.6C1459.7 872.4 1460.8 872.1 1462.0 871.9C1463.2 871.6 1464.3 871.4 1465.5 871.1C1466.7 870.9 1467.8 870.6 1469.0 870.3C1470.2 870.1 1471.3 869.8 1472.5 869.5C1473.7 869.2 1474.8 868.9 1476.0 868.6C1477.2 868.3 1478.3 868.0 1479.5 867.7C1480.7 867.4 1481.8 867.0 1483.0 866.7C1484.2 866.4 1485.3 866.0 1486.5 865.7C1487.7 865.4 1488.8 865.0 1490.0 864.6C1491.2 864.3 1492.3 863.9 1493.5 863.5C1494.7 863.2 1495.8 862.8 1497.0 862.4C1498.2 862.0 1499.3 861.6 1500.5 861.2C1501.7 860.8 1502.8 860.4 1504.0 860.0C1505.2 859.5 1506.3 859.1 1507.5 858.7C1508.7 858.2 1509.8 857.8 1511.0 857.3C1512.2 856.9 1513.4 856.4 1514.5 855.9C1515.6 855.5 1517.0 854.9 1517.5 854.7"/>
<path stroke="#00f" d="M177.5 946.8C178.1 947.5 179.8 949.7 181.0 951.1C182.2 952.5 183.3 953.9 184.5 955.3C185.7 956.7 186.8 958.0 188.0 959.4C189.2 960.7 190.3 962.0 191.5 963.3C192.7 964.6 193.8 965.8 195.0 967.0C196.2 968.3 197.3 969.4 198.5 970.6C199.7 971.8 200.8 972.9 202.0 974.0C203.2 975.1 204.3 976.1 205.5 977.1C206.7 978.1 207.8 979.1 209.0 980.0C210.2 981.0 211.3 981.9 212.5 982.7C213.7 983.6 214.8 984.4 216.0 985.1C217.2 985.9 218.3 986.6 219.5 987.3C220.7 987.9 221.8 988.5 223.0 989.1C224.2 989.6 225.3 990.1 226.5 990.6C227.7 991.0 228.8 991.4 230.0 991.8C231.2 992.1 232.3 992.4 233.5 992.7C234.7 992.9 235.8 993.1 237.0 993.3C238.2 993.4 239.3 993.5 240.5 993.6C241.7 993.6 242.8 993.6 244.0 993.6C245.2 993.6 246.3 993.5 247.5 993.4C248.7 993.3 249.8 993.2 251.0 993.0C252.2 992.9 253.3 992.7 254.5 992.4C255.7 992.2 256.8 991.9 258.0 991.6C259.2 991.3 260.3 991.0 261.5 990.7C262.7 990.3 263.8 989.9 265.0 989.5C266.2 989.1 267.3 988.7 268.5 988.3C269.7 987.8 270.8 987.4 272.0 986.9C273.2 986.4 274.3 985.9 275.5 985.3C276.7 984.8 277.8 984.2 279.0 983.7C280.2 983.1 281.3 982.5 282.5 981.9C283.7 981.3 284.8 980.7 286.0 980.0C287.2 979.4 288.3 978.7 289.5 978.0C290.7 977.3 291.8 976.6 293.0 975.9C294.2 975.2 295.3 974.5 296.5 973.7C297.7 973.0 298.8 972.2 300.0 971.4C301.2 970.6 302.3 969.8 303.5 969.0C304.7 968.2 305.8 967.4 307.0 966.6C308.2 965.7 309.3 964.9 310.5 964.0C311.7 963.2 312.8 962.3 314.0 961.4C315.2 960.6 316.3 959.7 317.5 958.8C318.7 957.9 319.8 957.0 321.0 956.1C322.2 955.1 323.3 954.2 324.5 953.3C325.7 952.4 326.8 951.4 328.0 950.5C329.2 949.5 330.3 948.6 331.5 947.6C332.7 946.6 333.8 945.7 335.0 944.7C336.2 943.7 337.3 942.8 338.5 941.8C339.7 940.8 340.8 939.8 342.0 938.8C343.2 937.8 344.3 936.8 345.5 935.8C346.7 934.9 347.8 933.9 349.0 932.9C350.2 931.9 351.3 930.9 352.5 929.9C353.7 928.9 354.8 927.9 356.0 926.9C357.2 925.9 358.3 924.9 359.5 923.9C360.7 922.9 361.8 921.9 363.0 920.9C364.2 919.9 365.3 918.9 366.5 917.9C367.7 916.9 368.8 916.0 370.0 915.0C371.2 914.0 372.3 913.0 373.5 912.0C374.7 911.0 375.8 910.0 377.0 909.0C378.2 908.0 379.3 907.0 380.5 906.0C381.7 905.0 382.8 904.0 384.0 903.0C385.2 902.0 386.3 901.0 387.5 899.9C388.7 898.9 389.8 897.9 391.0 896.9C392.2 895.9 393.3 895.0 394.5 894.1C395.7 893.2 396.8 892.3 398.0 891.4C399.2 890.6 400.3 889.8 401.5 889.1C402.7 888.3 403.8 887.6 405.0 886.8C406.2 886.1 407.3 885.4 408.5 884.7C409.7 884.1 410.8 883.4 412.0 882.7C413.2 882.1 414.3 881.4 415.5 880.8C416.7 880.1 417.8 879.5 419.0 878.8C420.2 878.2 421.3 877.6 422.5 876.9C423.7 876.3 424.8 875.6 426.0 875.0C427.2 874.3 428.3 873.7 429.5 873.0C430.7 872.3 431.8 871.6 433.0 870.9C434.2 870.2 435.3 869.5 436.5 868.8C437.7 868.1 438.8 867.3 440.0 866.5C441.2 865.8 442.3 865.0 443.5 864.1C444.7 863.3 445.8 862.5 447.0 861.6C448.2 860.7 449.3 859.8 450.5 858.9C451.7 857.9 452.8 856.9 454.0 855.9C455.2 854.9 456.3 853.8 457.5 852.7C458.7 851.6 459.8 850.5 461.0 849.3C462.2 848.1 463.3 846.9 464.5 845.6C465.7 844.4 466.8 843.0 468.0 841.7C469.2 840.3 470.3 838.9 471.5 837.5C472.7 836.0 473.8 834.5 475.0 833.0C476.2 831.4 477.3 829.8 478.5 828.2C479.7 826.6 480.8 824.9 482.0 823.2C483.2 821.4 484.3 819.6 485.5 817.8C486.7 816.0 487.8 814.1 489.0 812.2C490.2 810.3 491.3 808.3 492.5 806.3C493.7 804.2 494.8 802.2 496.0 800.0C497.2 797.9 498.3 795.7 499.5 793.5C500.7 791.3 501.8 789.0 503.0 786.7C504.2 784.4 505.3 782.0 506.5 779.5C507.7 777.1 508.8 774.6 510.0 772.1C511.2 769.6 512.3 767.0 513.5 764.4C514.7 761.8 515.8 759.1 517.0 756.4C518.2 753.7 519.3 751.0 520.5 748.3C521.7 745.6 522.8 742.8 524.0 740.1C525.2 737.3 526.3 734.5 527.5 731.7C528.7 728.9 529.8 726.1 531.0 723.3C532.2 720.5 533.3 717.6 534.5 714.8C535.7 712.0 536.8 709.2 538.0 706.4C539.2 703.7 540.3 700.9 541.5 698.2C542.7 695.5 543.8 692.9 545.0 690.3C546.2 687.6 547.3 685.1 548.5 682.5C549.7 680.0 550.8 677.5 552.0 675.0C553.2 672.5 554.3 670.1 555.5 667.7C556.7 665.3 557.8 663.0 559.0 660.7C560.2 658.4 561.3 656.1 562.5 653.9C563.7 651.7 564.8 649.5 566.0 647.4C567.2 645.3 568.3 643.2 569.5 641.2C570.7 639.1 571.8 637.1 573.0 635.2C574.2 633.3 575.3 631.4 576.5 629.5C577.7 627.7 578.8 625.9 580.0 624.2C581.2 622.4 582.3 620.7 583.5 619.1C584.7 617.5 585.8 615.9 587.0 614.4C588.2 612.8 589.3 611.3 590.5 609.9C591.7 608.5 592.8 607.1 594.0 605.8C595.2 604.5 596.3 603.2 597.5 602.0C598.7 600.7 599.8 599.6 601.0 598.5C602.2 597.3 603.3 596.3 604.5 595.2C605.7 594.2 606.8 593.2 608.0 592.3C609.2 591.4 610.3 590.5 611.5 589.7C612.7 588.9 613.8 588.1 615.0 587.4C616.2 586.7 617.3 586.0 618.5 585.4C619.7 584.8 620.8 584.2 622.0 583.7C623.2 583.1 624.3 582.7 625.5 582.2C626.7 581.8 627.8 581.4 629.0 581.1C630.2 580.8 631.3 580.5 632.5 580.3C633.7 580.1 634.8 580.0 636.0 580.0C637.2 579.9 638.3 580.0 639.5 580.1C640.7 580.2 641.8 580.4 643.0 580.7C644.2 581.0 645.3 581.4 646.5 581.9C647.7 582.4 648.8 583.0 650.0 583.7C651.2 584.5 652.3 585.3 653.5 586.3C654.7 587.2 655.8 588.3 657.0 589.5C658.2 590.8 659.3 592.1 660.5 593.6C661.7 595.1 662.8 596.7 664.0 598.5C665.2 600.3 666.3 602.2 667.5 604.3C668.7 606.3 669.8 608.5 671.0 610.7C672.2 613.0 673.3 615.4 674.5 617.8C675.7 620.3 676.8 622.8 678.0 625.4C679.2 628.0 680.3 630.7 681.5 633.4C682.7 636.1 683.8 638.8 685.0 641.6C686.2 644.4 687.3 647.2 688.5 650.0C689.7 652.8 690.8 655.7 692.0 658.5C693.2 661.3 694.3 664.1 695.5 666.9C696.7 669.6 697.8 672.4 699.0 675.1C700.2 677.8 701.3 680.4 702.5 683.0C703.7 685.6 704.8 688.1 706.0 690.5C707.2 692.9 708.3 695.3 709.5 697.5C710.7 699.8 711.8 701.9 713.0 703.9C714.2 705.9 715.3 707.7 716.5 709.4C717.7 711.1 718.8 712.6 720.0 714.0C721.2 715.3 722.3 716.5 723.5 717.4C724.7 718.3 725.8 719.1 727.0 719.6C728.2 720.1 729.3 720.4 730.5 720.4C731.7 720.5 732.8 720.3 734.0 719.9C735.2 719.4 736.3 718.7 737.5 717.7C738.7 716.7 739.8 715.5 741.0 714.0C742.2 712.4 743.3 710.6 744.5 708.4C745.7 706.3 746.8 703.9 748.0 701.1C749.2 698.3 750.3 695.2 751.5 691.8C752.7 688.4 753.8 684.7 755.0 680.7C756.2 676.7 757.3 672.3 758.5 667.8C759.7 663.3 760.8 658.5 762.0 653.6C763.2 648.7 764.3 643.5 765.5 638.3C766.7 633.0 767.8 627.6 769.0 622.1C770.2 616.6 771.3 611.0 772.5 605.3C773.7 599.7 774.8 594.0 776.0 588.3C777.2 582.6 778.3 576.8 779.5 571.1C780.7 565.4 781.8 559.7 783.0 554.0C784.2 548.4 785.3 542.7 786.5 537.1C787.7 531.5 788.8 526.0 790.0 520.5C791.2 515.1 792.3 509.7 793.5 504.5C794.7 499.2 795.8 494.0 797.0 489.0C798.2 484.0 799.3 479.2 800.5 474.5C801.7 469.8 802.8 465.2 804.0 460.9C805.2 456.6 806.3 452.4 807.5 448.5C808.7 444.6 809.8 440.9 811.0 437.5C812.2 434.0 813.3 430.9 814.5 428.0C815.7 425.1 816.8 422.5 818.0 420.1C819.2 417.8 820.3 415.7 821.5 413.9C822.7 412.0 823.8 410.5 825.0 409.1C826.2 407.8 827.3 406.7 828.5 405.8C829.7 405.0 830.8 404.3 832.0 403.9C833.2 403.4 834.3 403.2 835.5 403.1C836.7 403.1 837.8 403.2 839.0 403.5C840.2 403.9 841.3 404.4 842.5 405.0C843.7 405.6 844.8 406.5 846.0 407.4C847.2 408.4 848.3 409.5 849.5 410.8C850.7 412.0 851.8 413.5 853.0 415.1C854.2 416.6 855.3 418.4 856.5 420.3C857.7 422.2 858.8 424.2 860.0 426.5C861.2 428.7 862.3 431.0 863.5 433.6C864.7 436.1 865.8 438.8 867.0 441.6C868.2 444.5 869.3 447.5 870.5 450.7C871.7 453.8 872.8 457.1 874.0 460.6C875.2 464.1 876.3 467.7 877.5 471.5C878.7 475.3 879.8 479.3 881.0 483.4C882.2 487.5 883.3 491.7 884.5 496.0C885.7 500.3 886.8 504.7 888.0 509.1C889.2 513.5 890.3 518.0 891.5 522.3C892.7 526.7 893.8 531.1 895.0 535.4C896.2 539.7 897.3 543.9 898.5 548.1C899.7 552.3 900.8 556.4 902.0 560.5C903.2 564.6 904.3 568.6 905.5 572.5C906.7 576.5 907.8 580.4 909.0 584.2C910.2 588.0 911.3 591.8 912.5 595.5C913.7 599.2 914.8 602.8 916.0 606.4C917.2 610.0 918.3 613.5 919.5 616.9C920.7 620.4 921.8 623.7 923.0 627.1C924.2 630.4 925.3 633.6 926.5 636.8C927.7 640.0 928.8 643.1 930.0 646.1C931.2 649.2 932.3 652.2 933.5 655.1C934.7 658.0 935.8 660.8 937.0 663.6C938.2 666.4 939.3 669.1 940.5 671.8C941.7 674.4 942.8 677.0 944.0 679.5C945.2 682.0 946.3 684.5 947.5 686.8C948.7 689.2 949.8 691.5 951.0 693.8C952.2 696.0 953.3 698.2 954.5 700.3C955.7 702.4 956.8 704.4 958.0 706.4C959.2 708.3 960.3 710.2 961.5 712.1C962.7 713.9 963.8 715.7 965.0 717.3C966.2 719.0 967.3 720.7 968.5 722.2C969.7 723.8 970.8 725.3 972.0 726.7C973.2 728.1 974.3 729.5 975.5 730.8C976.7 732.0 977.8 733.3 979.0 734.4C980.2 735.6 981.3 736.7 982.5 737.7C983.7 738.7 984.8 739.7 986.0 740.5C987.2 741.4 988.3 742.3 989.5 743.0C990.7 743.8 991.8 744.5 993.0 745.1C994.2 745.7 995.3 746.3 996.5 746.8C997.7 747.3 998.8 747.8 1000.0 748.2C1001.2 748.6 1002.3 748.9 1003.5 749.3C1004.7 749.6 1005.8 749.8 1007.0 750.1C1008.2 750.3 1009.3 750.5 1010.5 750.6C1011.7 750.8 1012.8 750.9 1014.0 751.0C1015.2 751.1 1016.3 751.1 1017.5 751.1C1018.7 751.2 1019.8 751.2 1021.0 751.2C1022.2 751.2 1023.3 751.1 1024.5 751.1C1025.7 751.0 1026.8 751.0 1028.0 750.9C1029.2 750.9 1030.3 750.8 1031.5 750.7C1032.7 750.6 1033.8 750.6 1035.0 750.5C1036.2 750.4 1037.3 750.3 1038.5 750.3C1039.7 750.2 1040.8 750.2 1042.0 750.1C1043.2 750.1 1044.3 750.0 1045.5 750.0C1046.7 750.0 1047.8 750.0 1049.0 750.0C1050.2 750.0 1051.3 750.0 1052.5 750.1C1053.7 750.1 1054.8 750.2 1056.0 750.3C1057.2 750.4 1058.3 750.5 1059.5 750.6C1060.7 750.8 1061.8 750.9 1063.0 751.1C1064.2 751.3 1065.3 751.5 1066.5 751.7C1067.7 752.0 1068.8 752.3 1070.0 752.6C1071.2 752.9 1072.3 753.2 1073.5 753.6C1074.7 753.9 1075.8 754.3 1077.0 754.8C1078.2 755.2 1079.3 755.7 1080.5 756.2C1081.7 756.8 1082.8 757.3 1084.0 757.9C1085.2 758.5 1086.3 759.2 1087.5 759.8C1088.7 760.5 1089.8 761.2 1091.0 762.0C1092.2 762.7 1093.3 763.5 1094.5 764.3C1095.7 765.1 1096.8 766.0 1098.0 766.9C1099.2 767.8 1100.3 768.7 1101.5 769.6C1102.7 770.5 1103.8 771.5 1105.0 772.5C1106.2 773.5 1107.3 774.5 1108.5 775.6C1109.7 776.6 1110.8 777.7 1112.0 778.7C1113.2 779.8 1114.3 780.9 1115.5 782.0C1116.7 783.2 1117.8 784.3 1119.0 785.4C1120.2 786.6 1121.3 787.8 1122.5 788.9C1123.7 790.1 1124.8 791.3 1126.0 792.5C1127.2 793.7 1128.3 794.9 1129.5 796.1C1130.7 797.3 1131.8 798.6 1133.0 799.8C1134.2 801.0 1135.3 802.3 1136.5 803.5C1137.7 804.8 1138.8 806.0 1140.0 807.2C1141.2 808.5 1142.3 809.7 1143.5 811.0C1144.7 812.3 1145.8 813.5 1147.0 814.8C1148.2 816.1 1149.3 817.3 1150.5 818.6C1151.7 819.9 1152.8 821.2 1154.0 822.4C1155.2 823.7 1156.3 825.0 1157.5 826.3C1158.7 827.6 1159.8 828.9 1161.0 830.2C1162.2 831.5 1163.3 832.7 1164.5 834.0C1165.7 835.3 1166.8 836.6 1168.0 837.9C1169.2 839.2 1170.3 840.5 1171.5 841.9C1172.7 843.2 1173.8 844.5 1175.0 845.8C1176.2 847.1 1177.3 848.4 1178.5 849.7C1179.7 851.0 1180.8 852.3 1182.0 853.6C1183.2 854.9 1184.3 856.3 1185.5 857.6C1186.7 858.9 1187.8 860.2 1189.0 861.5C1190.2 862.8 1191.3 864.1 1192.5 865.4C1193.7 866.7 1194.8 868.1 1196.0 869.4C1197.2 870.7 1198.3 872.0 1199.5 873.3C1200.7 874.6 1201.8 875.9 1203.0 877.2C1204.2 878.5 1205.3 879.8 1206.5 881.0C1207.7 882.3 1208.8 883.6 1210.0 884.9C1211.2 886.2 1212.3 887.5 1213.5 888.7C1214.7 890.0 1215.8 891.3 1217.0 892.5C1218.2 893.8 1219.3 895.0 1220.5 896.3C1221.7 897.5 1222.8 898.8 1224.0 900.0C1225.2 901.2 1226.3 902.4 1227.5 903.7C1228.7 904.9 1229.8 906.1 1231.0 907.3C1232.2 908.5 1233.3 909.7 1234.5 910.9C1235.7 912.0 1236.8 913.2 1238.0 914.4C1239.2 915.5 1240.3 916.7 1241.5 917.8C1242.7 919.0 1243.8 920.1 1245.0 921.2C1246.2 922.3 1247.3 923.4 1248.5 924.5C1249.7 925.6 1250.8 926.7 1252.0 927.8C1253.2 928.8 1254.3 929.9 1255.5 930.9C1256.7 932.0 1257.8 933.0 1259.0 934.0C1260.2 935.0 1261.3 936.0 1262.5 937.0C1263.7 938.0 1264.8 938.9 1266.0 939.9C1267.2 940.9 1268.3 941.8 1269.5 942.7C1270.7 943.6 1271.8 944.5 1273.0 945.4C1274.2 946.3 1275.3 947.2 1276.5 948.0C1277.7 948.9 1278.8 949.7 1280.0 950.5C1281.2 951.3 1282.3 952.1 1283.5 952.9C1284.7 953.7 1285.8 954.4 1287.0 955.1C1288.2 955.9 1289.3 956.6 1290.5 957.3C1291.7 958.0 1292.8 958.7 1294.0 959.3C1295.2 960.0 1296.3 960.6 1297.5 961.3C1298.7 961.9 1299.8 962.5 1301.0 963.1C1302.2 963.7 1303.3 964.3 1304.5 964.8C1305.7 965.4 1306.8 965.9 1308.0 966.5C1309.2 967.0 1310.3 967.5 1311.5 968.0C1312.7 968.5 1313.8 969.0 1315.0 969.4C1316.2 969.9 1317.3 970.3 1318.5 970.8C1319.7 971.2 1320.8 971.6 1322.0 972.0C1323.2 972.4 1324.3 972.8 1325.5 973.2C1326.7 973.5 1327.8 973.9 1329.0 974.3C1330.2 974.6 1331.3 974.9 1332.5 975.2C1333.7 975.6 1334.8 975.9 1336.0 976.2C1337.2 976.5 1338.3 976.7 1339.5 977.0C1340.7 977.3 1341.8 977.5 1343.0 977.8C1344.2 978.0 1345.3 978.3 1346.5 978.5C1347.7 978.7 1348.8 978.9 1350.0 979.1C1351.2 979.3 1352.3 979.5 1353.5 979.6C1354.7 979.8 1355.8 980.0 1357.0 980.1C1358.2 980.3 1359.3 980.4 1360.5 980.5C1361.7 980.7 1362.8 980.8 1364.0 980.9C1365.2 981.0 1366.3 981.1 1367.5 981.2C1368.7 981.3 1369.8 981.3 1371.0 981.4C1372.2 981.5 1373.3 981.5 1374.5 981.6C1375.7 981.6 1376.8 981.7 1378.0 981.7C1379.2 981.7 1380.3 981.7 1381.5 981.8C1382.7 981.8 1383.8 981.8 1385.0 981.8C1386.2 981.8 1387.3 981.7 1388.5 981.7C1389.7 981.7 1390.8 981.7 1392.0 981.6C1393.2 981.6 1394.3 981.5 1395.5 981.5C1396.7 981.4 1397.8 981.3 1399.0 981.3C1400.2 981.2 1401.3 981.1 1402.5 981.0C1403.7 981.0 1404.8 980.9 1406.0 980.8C1407.2 980.7 1408.3 980.6 1409.5 980.4C1410.7 980.3 1411.8 980.2 1413.0 980.1C1414.2 980.0 1415.3 979.8 1416.5 979.7C1417.7 979.6 1418.8 979.4 1420.0 979.3C1421.2 979.1 1422.3 979.0 1423.5 978.8C1424.7 978.6 1425.8 978.5 1427.0 978.3C1428.2 978.1 1429.3 978.0 1430.5 977.8C1431.7 977.6 1432.8 977.4 1434.0 977.2C1435.2 977.0 1436.3 976.8 1437.5 976.6C1438.7 976.4 1439.8 976.2 1441.0 976.0C1442.2 975.8 1443.3 975.6 1444.5 975.4C1445.7 975.2 1446.8 975.0 1448.0 974.8C1449.2 974.5 1450.3 974.3 1451.5 974.1C1452.7 973.9 1453.8 973.6 1455.0 973.4C1456.2 973.2 1457.3 972.9 1458.5 972.7C1459.7 972.5 1460.8 972.2 1462.0 972.0C1463.2 971.8 1464.3 971.5 1465.5 971.3C1466.7 971.0 1467.8 970.8 1469.0 970.5C1470.2 970.3 1471.3 970.1 1472.5 969.8C1473.7 969.6 1474.8 969.3 1476.0 969.1C1477.2 968.8 1478.3 968.6 1479.5 968.3C1480.7 968.1 1481.8 967.8 1483.0 967.6C1484.2 967.3 1485.3 967.0 1486.5 966.8C1487.7 966.5 1488.8 966.3 1490.0 966.0C1491.2 965.8 1492.3 965.5 1493.5 965.3C1494.7 965.0 1495.8 964.8 1497.0 964.6C1498.2 964.3 1499.3 964.1 1500.5 963.8C1501.7 963.6 1502.8 963.3 1504.0 963.1C1505.2 962.8 1506.3 962.6 1507.5 962.4C1508.7 962.1 1509.8 961.9 1511.0 961.7C1512.2 961.4 1513.4 961.2 1514.5 961.0C1515.6 960.8 1517.0 960.5 1517.5 960.4"/>
<path stroke="#00f" stroke-width="7" shape-rendering="geometricPrecision" d="M177.5 946.8C178.1 947.5 179.8 949.7 181.0 951.1C182.2 952.5 183.3 953.9 184.5 955.3C185.7 956.7 186.8 958.0 188.0 959.4C189.2 960.7 190.3 962.0 191.5 963.3C192.7 964.6 193.8 965.8 195.0 967.0C196.2 968.3 197.3 969.4 198.5 970.6C199.7 971.8 200.8 972.9 202.0 974.0C203.2 975.1 204.3 976.1 205.5 977.1C206.7 978.1 207.8 979.1 209.0 980.0C210.2 981.0 211.3 981.9 212.5 982.7C213.7 983.6 214.8 984.4 216.0 985.1C217.2 985.9 218.3 986.6 219.5 987.3C220.7 987.9 221.8 988.5 223.0 989.1C224.2 989.6 225.3 990.1 226.5 990.6C227.7 991.0 228.8 991.4 230.0 991.8C231.2 992.1 232.3 992.4 233.5 992.7C234.7 992.9 235.8 993.1 237.0 993.3C238.2 993.4 239.3 993.5 240.5 993.6C241.7 993.6 242.8 993.6 244.0 993.6C245.2 993.6 246.3 993.5 247.5 993.4C248.7 993.3 249.8 993.2 251.0 993.0C252.2 992.9 253.3 992.7 254.5 992.4C255.7 992.2 256.8 991.9 258.0 991.6C259.2 991.3 260.3 991.0 261.5 990.7C262.7 990.3 263.8 989.9 265.0 989.5C266.2 989.1 267.3 988.7 268.5 988.3C269.7 987.8 270.8 987.4 272.0 986.9C273.2 986.4 274.3 985.9 275.5 985.3C276.7 984.8 277.8 984.2 279.0 983.7C280.2 983.1 281.3 982.5 282.5 981.9C283.7 981.3 284.8 980.7 286.0 980.0C287.2 979.4 288.3 978.7 289.5 978.0C290.7 977.3 291.8 976.6 293.0 975.9C294.2 975.2 295.3 974.5 296.5 973.7C297.7 973.0 298.8 972.2 300.0 971.4C301.2 970.6 302.3 969.8 303.5 969.0C304.7 968.2 305.8 967.4 307.0 966.6C308.2 965.7 309.3 964.9 310.5 964.0C311.7 963.2 312.8 962.3 314.0 961.4C315.2 960.6 316.3 959.7 317.5 958.8C318.7 957.9 319.8 957.0 321.0 956.1C322.2 955.1 323.3 954.2 324.5 953.3C325.7 952.4 326.8 951.4 328.0 950.5C329.2 949.5 330.3 948.6 331.5 947.6C332.7 946.6 333.8 945.7 335.0 944.7C336.2 943.7 337.3 942.8 338.5 941.8C339.7 940.8 340.8 939.8 342.0 938.8C343.2 937.8 344.3 936.8 345.5 935.8C346.7 934.9 347.8 933.9 349.0 932.9C350.2 931.9 351.3 930.9 352.5 929.9C353.7 928.9 354.8 927.9 356.0 926.9C357.2 925.9 358.3 924.9 359.5 923.9C360.7 922.9 361.8 921.9 363.0 920.9C364.2 919.9 365.3 918.9 366.5 917.9C367.7 916.9 368.8 916.0 370.0 915.0C371.2 914.0 372.3 913.0 373.5 912.0C374.7 911.0 375.8 910.0 377.0 909.0C378.2 908.0 379.3 907.0 380.5 906.0C381.7 905.0 382.8 904.0 384.0 903.0C385.2 902.0 386.3 901.0 387.5 899.9C388.7 898.9 389.8 897.9 391.0 896.9C392.2 895.9 393.3 895.0 394.5 894.1C395.7 893.2 396.8 892.3 398.0 891.4C399.2 890.6 400.3 889.8 401.5 889.1C402.7 888.3 403.8 887.6 405.0 886.8C406.2 886.1 407.3 885.4 408.5 884.7C409.7 884.1 410.8 883.4 412.0 882.7C413.2 882.1 414.3 881.4 415.5 880.8C416.7 880.1 417.8 879.5 419.0 878.8C420.2 878.2 421.3 877.6 422.5 876.9C423.7 876.3 424.8 875.6 426.0 875.0C427.2 874.3 428.3 873.7 429.5 873.0C430.7 872.3 431.8 871.6 433.0 870.9C434.2 870.2 435.3 869.5 436.5 868.8C437.7 868.1 438.8 867.3 440.0 866.5C441.2 865.8 442.3 865.0 443.5 864.1C444.7 863.3 445.8 862.5 447.0 861.6C448.2 860.7 449.3 859.8 450.5 858.9C451.7 857.9 452.8 856.9 454.0 855.9C455.2 854.9 456.3 853.8 457.5 852.7C458.7 851.6 459.8 850.5 461.0 849.3C462.2 848.1 463.3 846.9 464.5 845.6C465.7 844.4 466.8 843.0 468.0 841.7C469.2 840.3 470.3 838.9 471.5 837.5C472.7 836.0 473.8 834.5 475.0 833.0C476.2 831.4 477.3 829.8 478.5 828.2C479.7 826.6 480.8 824.9 482.0 823.2C483.2 821.4 484.3 819.6 485.5 817.8C486.7 816.0 487.8 814.1 489.0 812.2C490.2 810.3 491.3 808.3 492.5 806.3C493.7 804.2 494.8 802.2 496.0 800.0C497.2 797.9 498.3 795.7 499.5 793.5C500.7 791.3 501.8 789.0 503.0 786.7C504.2 784.4 505.3 782.0 506.5 779.5C507.7 777.1 508.8 774.6 510.0 772.1C511.2 769.6 512.3 767.0 513.5 764.4C514.7 761.8 515.8 759.1 517.0 756.4C518.2 753.7 519.3 751.0 520.5 748.3C521.7 745.6 522.8 742.8 524.0 740.1C525.2 737.3 526.3 734.5 527.5 731.7C528.7 728.9 529.8 726.1 531.0 723.3C532.2 720.5 533.3 717.6 534.5 714.8C535.7 712.0 536.8 709.2 538.0 706.4C539.2 703.7 540.3 700.9 541.5 698.2C542.7 695.5 543.8 692.9 545.0 690.3C546.2 687.6 547.3 685.1 548.5 682.5C549.7 680.0 550.8 677.5 552.0 675.0C553.2 672.5 554.3 670.1 555.5 667.7C556.7 665.3 557.8 663.0 559.0 660.7C560.2 658.4 561.3 656.1 562.5 653.9C563.7 651.7 564.8 649.5 566.0 647.4C567.2 645.3 568.3 643.2 569.5 641.2C570.7 639.1 571.8 637.1 573.0 635.2C574.2 633.3 575.3 631.4 576.5 629.5C577.7 627.7 578.8 625.9 580.0 624.2C581.2 622.4 582.3 620.7 583.5 619.1C584.7 617.5 585.8 615.9 587.0 614.4C588.2 612.8 589.3 611.3 590.5 609.9C591.7 608.5 592.8 607.1 594.0 605.8C595.2 604.5 596.3 603.2 597.5 602.0C598.7 600.7 599.8 599.6 601.0 598.5C602.2 597.3 603.3 596.3 604.5 595.2C605.7 594.2 606.8 593.2 608.0 592.3C609.2 591.4 610.3 590.5 611.5 589.7C612.7 588.9 613.8 588.1 615.0 587.4C616.2 586.7 617.3 586.0 618.5 585.4C619.7 584.8 620.8 584.2 622.0 583.7C623.2 583.1 624.3 582.7 625.5 582.2C626.7 581.8 627.8 581.4 629.0 581.1C630.2 580.8 631.3 580.5 632.5 580.3C633.7 580.1 634.8 580.0 636.0 580.0C637.2 579.9 638.3 580.0 639.5 580.1C640.7 580.2 641.8 580.4 643.0 580.7C644.2 581.0 645.3 581.4 646.5 581.9C647.7 582.4 648.8 583.0 650.0 583.7C651.2 584.5 652.3 585.3 653.5 586.3C654.7 587.2 655.8 588.3 657.0 589.5C658.2 590.8 659.3 592.1 660.5 593.6C661.7 595.1 662.8 596.7 664.0 598.5C665.2 600.3 666.3 602.2 667.5 604.3C668.7 606.3 669.8 608.5 671.0 610.7C672.2 613.0 673.3 615.4 674.5 617.8C675.7 620.3 676.8 622.8 678.0 625.4C679.2 628.0 680.3 630.7 681.5 633.4C682.7 636.1 683.8 638.8 685.0 641.6C686.2 644.4 687.3 647.2 688.5 650.0C689.7 652.8 690.8 655.7 692.0 658.5C693.2 661.3 694.3 664.1 695.5 666.9C696.7 669.6 697.8 672.4 699.0 675.1C700.2 677.8 701.3 680.4 702.5 683.0C703.7 685.6 704.8 688.1 706.0 690.5C707.2 692.9 708.3 695.3 709.5 697.5C710.7 699.8 711.8 701.9 713.0 703.9C714.2 705.9 715.3 707.7 716.5 709.4C717.7 711.1 718.8 712.6 720.0 714.0C721.2 715.3 722.3 716.5 723.5 717.4C724.7 718.3 725.8 719.1 727.0 719.6C728.2 720.1 729.3 720.4 730.5 720.4C731.7 720.5 732.8 720.3 734.0 719.9C735.2 719.4 736.3 718.7 737.5 717.7C738.7 716.7 739.8 715.5 741.0 714.0C742.2 712.4 743.3 710.6 744.5 708.4C745.7 706.3 746.8 703.9 748.0 701.1C749.2 698.3 750.3 695.2 751.5 691.8C752.7 688.4 753.8 684.7 755.0 680.7C756.2 676.7 757.3 672.3 758.5 667.8C759.7 663.3 760.8 658.5 762.0 653.6C763.2 648.7 764.3 643.5 765.5 638.3C766.7 633.0 767.8 627.6 769.0 622.1C770.2 616.6 771.3 611.0 772.5 605.3C773.7 599.7 774.8 594.0 776.0 588.3C777.2 582.6 778.3 576.8 779.5 571.1C780.7 565.4 781.8 559.7 783.0 554.0C784.2 548.4 785.3 542.7 786.5 537.1C787.7 531.5 788.8 526.0 790.0 520.5C791.2 515.1 792.3 509.7 793.5 504.5C794.7 499.2 795.8 494.0 797.0 489.0C798.2 484.0 799.3 479.2 800.5 474.5C801.7 469.8 802.8 465.2 804.0 460.9C805.2 456.6 806.3 452.4 807.5 448.5C808.7 444.6 809.8 440.9 811.0 437.5C812.2 434.0 813.3 430.9 814.5 428.0C815.7 425.1 816.8 422.5 818.0 420.1C819.2 417.8 820.3 415.7 821.5 413.9C822.7 412.0 823.8 410.5 825.0 409.1C826.2 407.8 827.3 406.7 828.5 405.8C829.7 405.0 830.8 404.3 832.0 403.9C833.2 403.4 834.3 403.2 835.5 403.1C836.7 403.1 837.8 403.2 839.0 403.5C840.2 403.9 841.3 404.4 842.5 405.0C843.7 405.6 844.8 406.5 846.0 407.4C847.2 408.4 848.3 409.5 849.5 410.8C850.7 412.0 851.8 413.5 853.0 415.1C854.2 416.6 855.3 418.4 856.5 420.3C857.7 422.2 858.8 424.2 860.0 426.5C861.2 428.7 862.3 431.0 863.5 433.6C864.7 436.1 865.8 438.8 867.0 441.6C868.2 444.5 869.3 447.5 870.5 450.7C871.7 453.8 872.8 457.1 874.0 460.6C875.2 464.1 876.3 467.7 877.5 471.5C878.7 475.3 879.8 479.3 881.0 483.4C882.2 487.5 883.3 491.7 884.5 496.0C885.7 500.3 886.8 504.7 888.0 509.1C889.2 513.5 890.3 518.0 891.5 522.3C892.7 526.7 893.8 531.1 895.0 535.4C896.2 539.7 897.3 543.9 898.5 548.1C899.7 552.3 900.8 556.4 902.0 560.5C903.2 564.6 904.3 568.6 905.5 572.5C906.7 576.5 907.8 580.4 909.0 584.2C910.2 588.0 911.3 591.8 912.5 595.5C913.7 599.2 914.8 602.8 916.0 606.4C917.2 610.0 918.3 613.5 919.5 616.9C920.7 620.4 921.8 623.7 923.0 627.1C924.2 630.4 925.3 633.6 926.5 636.8C927.7 640.0 928.8 643.1 930.0 646.1C931.2 649.2 932.3 652.2 933.5 655.1C934.7 658.0 935.8 660.8 937.0 663.6C938.2 666.4 939.3 669.1 940.5 671.8C941.7 674.4 942.8 677.0 944.0 679.5C945.2 682.0 946.3 684.5 947.5 686.8C948.7 689.2 949.8 691.5 951.0 693.8C952.2 696.0 953.3 698.2 954.5 700.3C955.7 702.4 956.8 704.4 958.0 706.4C959.2 708.3 960.3 710.2 961.5 712.1C962.7 713.9 963.8 715.7 965.0 717.3C966.2 719.0 967.3 720.7 968.5 722.2C969.7 723.8 970.8 725.3 972.0 726.7C973.2 728.1 974.3 729.5 975.5 730.8C976.7 732.0 977.8 733.3 979.0 734.4C980.2 735.6 981.3 736.7 982.5 737.7C983.7 738.7 984.8 739.7 986.0 740.5C987.2 741.4 988.3 742.3 989.5 743.0C990.7 743.8 991.8 744.5 993.0 745.1C994.2 745.7 995.3 746.3 996.5 746.8C997.7 747.3 998.8 747.8 1000.0 748.2C1001.2 748.6 1002.3 748.9 1003.5 749.3C1004.7 749.6 1005.8 749.8 1007.0 750.1C1008.2 750.3 1009.3 750.5 1010.5 750.6C1011.7 750.8 1012.8 750.9 1014.0 751.0C1015.2 751.1 1016.3 751.1 1017.5 751.1C1018.7 751.2 1019.8 751.2 1021.0 751.2C1022.2 751.2 1023.3 751.1 1024.5 751.1C1025.7 751.0 1026.8 751.0 1028.0 750.9C1029.2 750.9 1030.3 750.8 1031.5 750.7C1032.7 750.6 1033.8 750.6 1035.0 750.5C1036.2 750.4 1037.3 750.3 1038.5 750.3C1039.7 750.2 1040.8 750.2 1042.0 750.1C1043.2 750.1 1044.3 750.0 1045.5 750.0C1046.7 750.0 1047.8 750.0 1049.0 750.0C1050.2 750.0 1051.3 750.0 1052.5 750.1C1053.7 750.1 1054.8 750.2 1056.0 750.3C1057.2 750.4 1058.3 750.5 1059.5 750.6C1060.7 750.8 1061.8 750.9 1063.0 751.1C1064.2 751.3 1065.3 751.5 1066.5 751.7C1067.7 752.0 1068.8 752.3 1070.0 752.6C1071.2 752.9 1072.3 753.2 1073.5 753.6C1074.7 753.9 1075.8 754.3 1077.0 754.8C1078.2 755.2 1079.3 755.7 1080.5 756.2C1081.7 756.8 1082.8 757.3 1084.0 757.9C1085.2 758.5 1086.3 759.2 1087.5 759.8C1088.7 760.5 1089.8 761.2 1091.0 762.0C1092.2 762.7 1093.3 763.5 1094.5 764.3C1095.7 765.1 1096.8 766.0 1098.0 766.9C1099.2 767.8 1100.3 768.7 1101.5 769.6C1102.7 770.5 1103.8 771.5 1105.0 772.5C1106.2 773.5 1107.3 774.5 1108.5 775.6C1109.7 776.6 1110.8 777.7 1112.0 778.7C1113.2 779.8 1114.3 780.9 1115.5 782.0C1116.7 783.2 1117.8 784.3 1119.0 785.4C1120.2 786.6 1121.3 787.8 1122.5 788.9C1123.7 790.1 1124.8 791.3 1126.0 792.5C1127.2 793.7 1128.3 794.9 1129.5 796.1C1130.7 797.3 1131.8 798.6 1133.0 799.8C1134.2 801.0 1135.3 802.3 1136.5 803.5C1137.7 804.8 1138.8 806.0 1140.0 807.2C1141.2 808.5 1142.3 809.7 1143.5 811.0C1144.7 812.3 1145.8 813.5 1147.0 814.8C1148.2 816.1 1149.3 817.3 1150.5 818.6C1151.7 819.9 1152.8 821.2 1154.0 822.4C1155.2 823.7 1156.3 825.0 1157.5 826.3C1158.7 827.6 1159.8 828.9 1161.0 830.2C1162.2 831.5 1163.3 832.7 1164.5 834.0C1165.7 835.3 1166.8 836.6 1168.0 837.9C1169.2 839.2 1170.3 840.5 1171.5 841.9C1172.7 843.2 1173.8 844.5 1175.0 845.8C1176.2 847.1 1177.3 848.4 1178.5 849.7C1179.7 851.0 1180.8 852.3 1182.0 853.6C1183.2 854.9 1184.3 856.3 1185.5 857.6C1186.7 858.9 1187.8 860.2 1189.0 861.5C1190.2 862.8 1191.3 864.1 1192.5 865.4C1193.7 866.7 1194.8 868.1 1196.0 869.4C1197.2 870.7 1198.3 872.0 1199.5 873.3C1200.7 874.6 1201.8 875.9 1203.0 877.2C1204.2 878.5 1205.3 879.8 1206.5 881.0C1207.7 882.3 1208.8 883.6 1210.0 884.9C1211.2 886.2 1212.3 887.5 1213.5 888.7C1214.7 890.0 1215.8 891.3 1217.0 892.5C1218.2 893.8 1219.3 895.0 1220.5 896.3C1221.7 897.5 1222.8 898.8 1224.0 900.0C1225.2 901.2 1226.3 902.4 1227.5 903.7C1228.7 904.9 1229.8 906.1 1231.0 907.3C1232.2 908.5 1233.3 909.7 1234.5 910.9C1235.7 912.0 1236.8 913.2 1238.0 914.4C1239.2 915.5 1240.3 916.7 1241.5 917.8C1242.7 919.0 1243.8 920.1 1245.0 921.2C1246.2 922.3 1247.3 923.4 1248.5 924.5C1249.7 925.6 1250.8 926.7 1252.0 927.8C1253.2 928.8 1254.3 929.9 1255.5 930.9C1256.7 932.0 1257.8 933.0 1259.0 934.0C1260.2 935.0 1261.3 936.0 1262.5 937.0C1263.7 938.0 1264.8 938.9 1266.0 939.9C1267.2 940.9 1268.3 941.8 1269.5 942.7C1270.7 943.6 1271.8 944.5 1273.0 945.4C1274.2 946.3 1275.3 947.2 1276.5 948.0C1277.7 948.9 1278.8 949.7 1280.0 950.5C1281.2 951.3 1282.3 952.1 1283.5 952.9C1284.7 953.7 1285.8 954.4 1287.0 955.1C1288.2 955.9 1289.3 956.6 1290.5 957.3C1291.7 958.0 1292.8 958.7 1294.0 959.3C1295.2 960.0 1296.3 960.6 1297.5 961.3C1298.7 961.9 1299.8 962.5 1301.0 963.1C1302.2 963.7 1303.3 964.3 1304.5 964.8C1305.7 965.4 1306.8 965.9 1308.0 966.5C1309.2 967.0 1310.3 967.5 1311.5 968.0C1312.7 968.5 1313.8 969.0 1315.0 969.4C1316.2 969.9 1317.3 970.3 1318.5 970.8C1319.7 971.2 1320.8 971.6 1322.0 972.0C1323.2 972.4 1324.3 972.8 1325.5 973.2C1326.7 973.5 1327.8 973.9 1329.0 974.3C1330.2 974.6 1331.3 974.9 1332.5 975.2C1333.7 975.6 1334.8 975.9 1336.0 976.2C1337.2 976.5 1338.3 976.7 1339.5 977.0C1340.7 977.3 1341.8 977.5 1343.0 977.8C1344.2 978.0 1345.3 978.3 1346.5 978.5C1347.7 978.7 1348.8 978.9 1350.0 979.1C1351.2 979.3 1352.3 979.5 1353.5 979.6C1354.7 979.8 1355.8 980.0 1357.0 980.1C1358.2 980.3 1359.3 980.4 1360.5 980.5C1361.7 980.7 1362.8 980.8 1364.0 980.9C1365.2 981.0 1366.3 981.1 1367.5 981.2C1368.7 981.3 1369.8 981.3 1371.0 981.4C1372.2 981.5 1373.3 981.5 1374.5 981.6C1375.7 981.6 1376.8 981.7 1378.0 981.7C1379.2 981.7 1380.3 981.7 1381.5 981.8C1382.7 981.8 1383.8 981.8 1385.0 981.8C1386.2 981.8 1387.3 981.7 1388.5 981.7C1389.7 981.7 1390.8 981.7 1392.0 981.6C1393.2 981.6 1394.3 981.5 1395.5 981.5C1396.7 981.4 1397.8 981.3 1399.0 981.3C1400.2 981.2 1401.3 981.1 1402.5 981.0C1403.7 981.0 1404.8 980.9 1406.0 980.8C1407.2 980.7 1408.3 980.6 1409.5 980.4C1410.7 980.3 1411.8 980.2 1413.0 980.1C1414.2 980.0 1415.3 979.8 1416.5 979.7C1417.7 979.6 1418.8 979.4 1420.0 979.3C1421.2 979.1 1422.3 979.0 1423.5 978.8C1424.7 978.6 1425.8 978.5 1427.0 978.3C1428.2 978.1 1429.3 978.0 1430.5 977.8C1431.7 977.6 1432.8 977.4 1434.0 977.2C1435.2 977.0 1436.3 976.8 1437.5 976.6C1438.7 976.4 1439.8 976.2 1441.0 976.0C1442.2 975.8 1443.3 975.6 1444.5 975.4C1445.7 975.2 1446.8 975.0 1448.0 974.8C1449.2 974.5 1450.3 974.3 1451.5 974.1C1452.7 973.9 1453.8 973.6 1455.0 973.4C1456.2 973.2 1457.3 972.9 1458.5 972.7C1459.7 972.5 1460.8 972.2 1462.0 972.0C1463.2 971.8 1464.3 971.5 1465.5 971.3C1466.7 971.0 1467.8 970.8 1469.0 970.5C1470.2 970.3 1471.3 970.1 1472.5 969.8C1473.7 969.6 1474.8 969.3 1476.0 969.1C1477.2 968.8 1478.3 968.6 1479.5 968.3C1480.7 968.1 1481.8 967.8 1483.0 967.6C1484.2 967.3 1485.3 967.0 1486.5 966.8C1487.7 966.5 1488.8 966.3 1490.0 966.0C1491.2 965.8 1492.3 965.5 1493.5 965.3C1494.7 965.0 1495.8 964.8 1497.0 964.6C1498.2 964.3 1499.3 964.1 1500.5 963.8C1501.7 963.6 1502.8 963.3 1504.0 963.1C1505.2 962.8 1506.3 962.6 1507.5 962.4C1508.7 962.1 1509.8 961.9 1511.0 961.7C1512.2 961.4 1513.4 961.2 1514.5 961.0C1515.6 960.8 1517.0 960.5 1517.5 960.4"/>
</g>
<g stroke-width="8.6" stroke-linecap="round" fill="none">
<path stroke="#000" d="M1189 82H1298"/><path stroke="#f00" d="M1189 142H1298"/><path stroke="#00f" d="M1189 202.4H1298"/></g>
<g font-size="46px">
<text x="1309.5" y="98.5" textLength="188" lengthAdjust="spacingAndGlyphs">0 months</text>
<text x="1309.5" y="158.5" textLength="188" lengthAdjust="spacingAndGlyphs">3 months</text>
<text x="1309.5" y="218.5" textLength="188" lengthAdjust="spacingAndGlyphs">6 months</text>
</g>
<g font-size="46px" text-anchor="middle">
<text x="387" y="1173" textLength="93.2" lengthAdjust="spacingAndGlyphs">1140</text>
<text x="637" y="1173" textLength="93.2" lengthAdjust="spacingAndGlyphs">1120</text>
<text x="887" y="1173" textLength="93.2" lengthAdjust="spacingAndGlyphs">1100</text>
<text x="1137" y="1173" textLength="93.2" lengthAdjust="spacingAndGlyphs">1080</text>
<text x="1387" y="1173" textLength="93.2" lengthAdjust="spacingAndGlyphs">1060</text>
</g>
<text x="242.6" y="116" font-size="55.5px" textLength="275.5" lengthAdjust="spacingAndGlyphs">PLA/PBAT</text>
<text x="578" y="1281.5" font-size="56px" textLength="435" lengthAdjust="spacingAndGlyphs">Wavelength (cm<tspan font-size="33px" dy="-28">-1</tspan><tspan dy="28">)</tspan></text>
<text transform="translate(68.5 752) rotate(-90)" font-size="56px" textLength="427.7" lengthAdjust="spacingAndGlyphs">Absorbance (a.u.)</text>
</svg></body></html>
